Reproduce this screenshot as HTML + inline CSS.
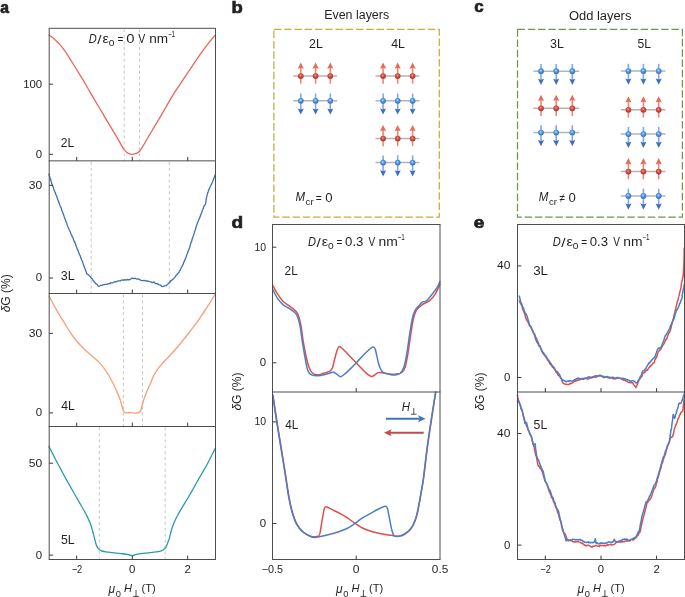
<!DOCTYPE html>
<html><head><meta charset="utf-8"><style>
html,body{margin:0;padding:0;background:#fff;width:685px;height:597px;overflow:hidden;}
svg{display:block;font-family:"Liberation Sans", sans-serif;will-change:transform;}
</style></head><body>
<svg width="685" height="597" viewBox="0 0 685 597" font-family='"Liberation Sans", sans-serif'>
<line x1="124.20" y1="29.30" x2="124.20" y2="160.85" stroke="#c6c6c6" stroke-width="1.00" stroke-dasharray="3 2.9"/>
<line x1="139.50" y1="29.30" x2="139.50" y2="160.85" stroke="#c6c6c6" stroke-width="1.00" stroke-dasharray="3 2.9"/>
<line x1="91.20" y1="161.85" x2="91.20" y2="293.50" stroke="#c6c6c6" stroke-width="1.00" stroke-dasharray="3 2.9"/>
<line x1="169.30" y1="161.85" x2="169.30" y2="293.50" stroke="#c6c6c6" stroke-width="1.00" stroke-dasharray="3 2.9"/>
<line x1="123.40" y1="294.50" x2="123.40" y2="426.50" stroke="#c6c6c6" stroke-width="1.00" stroke-dasharray="3 2.9"/>
<line x1="142.50" y1="294.50" x2="142.50" y2="426.50" stroke="#c6c6c6" stroke-width="1.00" stroke-dasharray="3 2.9"/>
<line x1="99.30" y1="427.50" x2="99.30" y2="559.50" stroke="#c6c6c6" stroke-width="1.00" stroke-dasharray="3 2.9"/>
<line x1="165.20" y1="427.50" x2="165.20" y2="559.50" stroke="#c6c6c6" stroke-width="1.00" stroke-dasharray="3 2.9"/>
<path d="M49.00 35.00 C50.00 35.78 53.22 38.13 55.00 39.70 C56.78 41.27 58.13 42.63 59.70 44.40 C61.27 46.17 62.83 48.15 64.40 50.30 C65.97 52.45 67.53 54.85 69.10 57.30 C70.67 59.75 72.23 62.45 73.80 65.00 C75.37 67.55 76.93 70.07 78.50 72.60 C80.07 75.13 81.62 77.55 83.20 80.20 C84.78 82.85 86.03 85.10 88.00 88.50 C89.97 91.90 92.65 96.62 95.00 100.60 C97.35 104.58 99.75 108.45 102.10 112.40 C104.45 116.35 106.75 120.33 109.10 124.30 C111.45 128.27 114.28 132.95 116.20 136.20 C118.12 139.45 119.37 141.67 120.60 143.80 C121.83 145.93 122.60 147.58 123.60 149.00 C124.60 150.42 125.60 151.48 126.60 152.30 C127.60 153.12 128.65 153.57 129.60 153.90 C130.55 154.23 131.15 154.38 132.30 154.30 C133.45 154.22 135.28 153.90 136.50 153.40 C137.72 152.90 138.68 152.27 139.60 151.30 C140.52 150.33 141.23 148.82 142.00 147.60 C142.77 146.38 143.20 145.68 144.20 144.00 C145.20 142.32 146.73 139.67 148.00 137.50 C149.27 135.33 150.53 133.13 151.80 131.00 C153.07 128.87 154.33 126.80 155.60 124.70 C156.87 122.60 158.22 120.40 159.40 118.40 C160.58 116.40 161.60 114.60 162.70 112.70 C163.80 110.80 164.82 109.07 166.00 107.00 C167.18 104.93 168.57 102.42 169.80 100.30 C171.03 98.18 171.90 96.65 173.40 94.30 C174.90 91.95 177.02 88.88 178.80 86.20 C180.58 83.52 182.32 80.87 184.10 78.20 C185.88 75.53 187.72 72.87 189.50 70.20 C191.28 67.53 193.13 64.68 194.80 62.20 C196.47 59.72 197.93 57.53 199.50 55.30 C201.07 53.07 202.53 51.05 204.20 48.80 C205.87 46.55 207.62 44.10 209.50 41.80 C211.38 39.50 214.50 36.13 215.50 35.00" fill="none" stroke="#e8675e" stroke-width="1.30" stroke-linejoin="round" stroke-linecap="round"/>
<path d="M49.00 174.24 L49.27 175.42 L49.55 176.12 L49.82 177.22 L50.09 178.12 L50.36 178.43 L50.64 179.25 L50.91 180.95 L51.18 181.24 L51.45 182.09 L51.73 183.72 L52.00 184.07 L52.33 185.33 L52.67 185.85 L53.00 186.91 L53.33 187.31 L53.67 188.68 L54.00 189.80 L54.33 190.35 L54.67 191.45 L55.00 192.27 L55.34 192.56 L55.69 194.16 L56.03 194.89 L56.38 195.50 L56.72 196.13 L57.07 197.87 L57.41 198.37 L57.76 199.52 L58.10 200.58 L58.43 201.30 L58.77 202.40 L59.10 202.76 L59.43 204.06 L59.77 204.59 L60.10 205.97 L60.43 206.80 L60.77 206.91 L61.10 207.84 L61.43 208.82 L61.77 210.47 L62.10 210.84 L62.43 211.93 L62.77 212.50 L63.10 213.61 L63.43 214.39 L63.77 215.25 L64.10 216.39 L64.43 217.27 L64.77 218.48 L65.10 219.15 L65.43 220.28 L65.77 221.10 L66.10 222.12 L66.43 222.69 L66.77 223.07 L67.10 224.66 L67.44 225.65 L67.79 226.48 L68.13 227.03 L68.47 228.06 L68.81 228.44 L69.16 229.95 L69.50 230.57 L69.94 231.24 L70.38 231.98 L70.82 233.73 L71.26 234.83 L71.70 234.89 L72.10 236.51 L72.50 237.03 L72.90 237.68 L73.30 238.74 L73.70 240.12 L74.10 241.14 L74.50 241.22 L74.90 242.70 L75.30 243.04 L75.62 244.57 L75.94 245.04 L76.25 246.44 L76.57 247.40 L76.89 247.78 L77.21 249.13 L77.53 249.29 L77.85 249.91 L78.16 251.29 L78.48 251.58 L78.80 252.60 L79.19 253.72 L79.58 254.83 L79.97 255.29 L80.36 256.09 L80.74 257.82 L81.13 258.18 L81.52 259.74 L81.91 260.59 L82.30 260.98 L82.62 261.97 L82.94 262.94 L83.27 263.98 L83.59 264.84 L83.91 265.71 L84.23 266.69 L84.56 267.92 L84.88 268.40 L85.20 269.23 L85.56 270.46 L85.92 270.92 L86.28 271.92 L86.64 273.54 L87.00 274.02 L87.72 274.62 L88.45 274.66 L89.18 275.64 L89.90 276.38 L90.50 276.57 L91.10 277.92 L91.70 278.68 L92.30 278.86 L92.88 280.13 L93.46 280.67 L94.04 281.58 L94.62 281.95 L95.20 283.01 L95.92 283.84 L96.65 283.92 L97.38 284.76 L98.10 286.18 L99.30 286.31 L100.50 285.45 L101.47 285.36 L102.43 285.19 L103.40 284.62 L104.37 284.56 L105.33 284.41 L106.30 284.37 L107.18 284.34 L108.06 283.78 L108.94 283.60 L109.82 283.73 L110.70 282.73 L111.78 282.94 L112.85 282.79 L113.92 282.04 L115.00 281.62 L116.10 281.98 L117.20 281.19 L118.30 280.91 L119.40 280.94 L120.28 280.98 L121.17 280.17 L122.05 280.17 L122.93 279.97 L123.82 280.25 L124.70 279.64 L125.87 280.12 L127.03 279.50 L128.20 279.74 L129.07 279.73 L129.95 279.63 L130.82 278.88 L131.70 278.33 L132.80 278.20 L133.90 278.58 L135.00 278.22 L136.10 278.81 L137.20 279.17 L138.30 278.85 L139.40 279.28 L140.28 280.11 L141.15 280.24 L142.03 280.71 L142.90 280.55 L144.07 280.36 L145.23 280.56 L146.40 281.09 L147.28 280.80 L148.15 281.10 L149.03 281.39 L149.90 281.62 L151.07 281.88 L152.23 282.65 L153.40 282.16 L154.28 282.23 L155.15 283.39 L156.03 283.55 L156.90 283.89 L157.77 283.70 L158.63 284.58 L159.50 284.93 L160.33 284.79 L161.17 285.88 L162.00 286.54 L163.00 286.26 L164.00 286.02 L165.00 285.69 L166.00 285.64 L167.00 284.78 L168.00 283.87 L168.67 283.56 L169.33 282.42 L170.00 282.11 L170.78 280.57 L171.55 280.65 L172.32 279.67 L173.10 279.12 L173.85 278.35 L174.60 277.60 L175.35 276.53 L176.10 275.21 L176.72 275.20 L177.35 273.87 L177.97 273.25 L178.60 272.86 L179.10 271.82 L179.60 270.81 L180.10 270.44 L180.60 269.21 L181.10 268.04 L181.60 266.95 L182.10 266.56 L182.60 265.18 L183.10 264.48 L183.43 263.20 L183.77 262.20 L184.10 261.68 L184.43 261.12 L184.77 259.62 L185.10 259.39 L185.50 258.52 L185.90 257.41 L186.30 256.42 L186.70 254.61 L187.10 254.23 L187.50 253.46 L187.90 251.65 L188.30 250.87 L188.70 249.87 L189.10 249.13 L189.37 248.16 L189.64 247.35 L189.91 246.80 L190.18 245.16 L190.45 244.35 L190.72 243.57 L190.99 242.70 L191.26 241.79 L191.53 241.83 L191.80 240.85 L192.10 239.19 L192.40 238.70 L192.70 237.62 L193.00 236.71 L193.30 235.85 L193.60 235.25 L193.90 234.29 L194.20 233.16 L194.50 232.09 L194.80 231.33 L195.07 230.23 L195.33 229.78 L195.60 229.05 L195.87 227.82 L196.13 226.64 L196.40 225.85 L196.67 225.15 L196.93 224.49 L197.20 223.78 L197.56 222.54 L197.92 222.12 L198.28 221.10 L198.64 220.07 L199.00 219.17 L199.34 218.45 L199.69 217.82 L200.03 216.69 L200.37 216.12 L200.71 215.05 L201.06 213.99 L201.40 213.44 L201.72 212.68 L202.04 211.15 L202.37 210.59 L202.69 209.68 L203.01 209.22 L203.33 208.37 L203.66 206.90 L203.98 206.51 L204.30 205.49 L205.50 204.36 L205.61 203.65 L205.73 202.39 L205.84 202.17 L205.96 201.11 L206.07 200.42 L206.19 199.41 L206.30 198.37 L206.56 197.55 L206.83 196.49 L207.09 195.14 L207.35 194.74 L207.61 193.27 L207.88 192.52 L208.14 192.26 L208.40 190.64 L208.80 189.78 L209.20 188.88 L209.60 188.75 L210.00 187.13 L210.40 186.07 L210.80 185.97 L211.20 184.34 L211.60 184.16 L212.00 183.07 L212.34 182.39 L212.68 181.65 L213.02 180.43 L213.36 179.80 L213.70 178.19 L214.04 178.07 L214.38 176.96 L214.72 176.32 L215.06 174.86 L215.40 174.40" fill="none" stroke="#3b70b7" stroke-width="1.30" stroke-linejoin="round" stroke-linecap="round"/>
<path d="M49.20 296.20 C49.78 297.33 51.53 300.80 52.70 303.00 C53.87 305.20 55.03 307.35 56.20 309.40 C57.37 311.45 58.52 313.33 59.70 315.30 C60.88 317.27 62.12 319.25 63.30 321.20 C64.48 323.15 65.43 324.85 66.80 327.00 C68.17 329.15 69.93 331.85 71.50 334.10 C73.07 336.35 74.63 338.55 76.20 340.50 C77.77 342.45 79.33 344.13 80.90 345.80 C82.47 347.47 84.03 349.05 85.60 350.50 C87.17 351.95 88.73 353.15 90.30 354.50 C91.87 355.85 93.48 357.25 95.00 358.60 C96.52 359.95 97.88 360.98 99.40 362.60 C100.92 364.22 102.53 366.15 104.10 368.30 C105.67 370.45 107.23 372.83 108.80 375.50 C110.37 378.17 112.13 381.55 113.50 384.30 C114.87 387.05 115.93 389.55 117.00 392.00 C118.07 394.45 119.02 396.47 119.90 399.00 C120.78 401.53 121.62 405.05 122.30 407.20 C122.98 409.35 123.32 410.97 124.00 411.90 C124.68 412.83 125.22 412.68 126.40 412.80 C127.58 412.92 129.67 412.55 131.10 412.60 C132.53 412.65 133.77 413.10 135.00 413.10 C136.23 413.10 137.52 413.10 138.50 412.60 C139.48 412.10 140.22 411.58 140.90 410.10 C141.58 408.62 142.02 405.75 142.60 403.70 C143.18 401.65 143.72 399.75 144.40 397.80 C145.08 395.85 145.72 394.35 146.70 392.00 C147.68 389.65 149.12 386.45 150.30 383.70 C151.48 380.95 152.63 377.85 153.80 375.50 C154.97 373.15 155.93 371.55 157.30 369.60 C158.67 367.65 160.23 365.80 162.00 363.80 C163.77 361.80 165.93 359.68 167.90 357.60 C169.87 355.52 171.83 353.48 173.80 351.30 C175.77 349.12 177.73 346.88 179.70 344.50 C181.67 342.12 183.63 339.52 185.60 337.00 C187.57 334.48 189.55 331.93 191.50 329.40 C193.45 326.87 195.35 324.53 197.30 321.80 C199.25 319.07 201.23 315.93 203.20 313.00 C205.17 310.07 207.63 306.45 209.10 304.20 C210.57 301.95 210.95 301.23 212.00 299.50 C213.05 297.77 214.83 294.75 215.40 293.80" fill="none" stroke="#f7a07a" stroke-width="1.35" stroke-linejoin="round" stroke-linecap="round"/>
<path d="M49.00 446.60 C49.67 447.90 51.67 451.80 53.00 454.40 C54.33 457.00 55.58 459.50 57.00 462.20 C58.42 464.90 59.98 467.78 61.50 470.60 C63.02 473.42 64.58 476.35 66.10 479.10 C67.62 481.85 69.10 484.45 70.60 487.10 C72.10 489.75 73.60 492.37 75.10 495.00 C76.60 497.63 78.08 500.27 79.60 502.90 C81.12 505.53 82.88 508.43 84.20 510.80 C85.52 513.17 86.45 514.90 87.50 517.10 C88.55 519.30 89.65 521.68 90.50 524.00 C91.35 526.32 91.90 528.50 92.60 531.00 C93.30 533.50 94.08 536.67 94.70 539.00 C95.32 541.33 95.78 543.50 96.30 545.00 C96.82 546.50 97.13 547.12 97.80 548.00 C98.47 548.88 98.97 549.65 100.30 550.30 C101.63 550.95 103.73 551.50 105.80 551.90 C107.87 552.30 110.15 552.42 112.70 552.70 C115.25 552.98 118.55 553.30 121.10 553.60 C123.65 553.90 126.15 554.17 128.00 554.50 C129.85 554.83 130.82 555.63 132.20 555.60 C133.58 555.57 134.23 554.70 136.30 554.30 C138.37 553.90 141.60 553.55 144.60 553.20 C147.60 552.85 151.52 552.60 154.30 552.20 C157.08 551.80 159.58 551.37 161.30 550.80 C163.02 550.23 163.73 549.60 164.60 548.80 C165.47 548.00 165.92 547.17 166.50 546.00 C167.08 544.83 167.65 543.03 168.10 541.80 C168.55 540.57 168.83 539.82 169.20 538.60 C169.57 537.38 169.92 535.95 170.30 534.50 C170.68 533.05 171.00 531.57 171.50 529.90 C172.00 528.23 172.62 526.27 173.30 524.50 C173.98 522.73 174.77 521.05 175.60 519.30 C176.43 517.55 177.33 515.77 178.30 514.00 C179.27 512.23 180.30 510.57 181.40 508.70 C182.50 506.83 183.72 504.75 184.90 502.80 C186.08 500.85 187.22 499.15 188.50 497.00 C189.78 494.85 191.25 492.28 192.60 489.90 C193.95 487.52 195.30 485.02 196.60 482.70 C197.90 480.38 199.12 478.22 200.40 476.00 C201.68 473.78 203.15 471.40 204.30 469.40 C205.45 467.40 206.33 465.82 207.30 464.00 C208.27 462.18 209.18 460.28 210.10 458.50 C211.02 456.72 211.92 455.05 212.80 453.30 C213.68 451.55 214.97 448.88 215.40 448.00" fill="none" stroke="#2a9ab3" stroke-width="1.30" stroke-linejoin="round" stroke-linecap="round"/>
<path d="M49.20 28.30 V160.85 M215.50 28.30 V160.85 M48.70 160.85 H216.00" stroke="#4d4d4d" stroke-width="1" fill="none"/>
<line x1="48.70" y1="28.30" x2="216.00" y2="28.30" stroke="#4d4d4d" stroke-width="1.00"/>
<line x1="76.70" y1="160.85" x2="76.70" y2="156.95" stroke="#3a3a3a" stroke-width="1.00"/>
<line x1="132.30" y1="160.85" x2="132.30" y2="156.95" stroke="#3a3a3a" stroke-width="1.00"/>
<line x1="187.70" y1="160.85" x2="187.70" y2="156.95" stroke="#3a3a3a" stroke-width="1.00"/>
<path d="M49.20 160.85 V293.50 M215.50 160.85 V293.50 M48.70 293.50 H216.00" stroke="#4d4d4d" stroke-width="1" fill="none"/>
<line x1="76.70" y1="293.50" x2="76.70" y2="289.60" stroke="#3a3a3a" stroke-width="1.00"/>
<line x1="132.30" y1="293.50" x2="132.30" y2="289.60" stroke="#3a3a3a" stroke-width="1.00"/>
<line x1="187.70" y1="293.50" x2="187.70" y2="289.60" stroke="#3a3a3a" stroke-width="1.00"/>
<path d="M49.20 293.50 V426.50 M215.50 293.50 V426.50 M48.70 426.50 H216.00" stroke="#4d4d4d" stroke-width="1" fill="none"/>
<line x1="76.70" y1="426.50" x2="76.70" y2="422.60" stroke="#3a3a3a" stroke-width="1.00"/>
<line x1="132.30" y1="426.50" x2="132.30" y2="422.60" stroke="#3a3a3a" stroke-width="1.00"/>
<line x1="187.70" y1="426.50" x2="187.70" y2="422.60" stroke="#3a3a3a" stroke-width="1.00"/>
<path d="M49.20 426.50 V559.50 M215.50 426.50 V559.50 M48.70 559.50 H216.00" stroke="#4d4d4d" stroke-width="1" fill="none"/>
<line x1="76.70" y1="559.50" x2="76.70" y2="555.60" stroke="#3a3a3a" stroke-width="1.00"/>
<line x1="132.30" y1="559.50" x2="132.30" y2="555.60" stroke="#3a3a3a" stroke-width="1.00"/>
<line x1="187.70" y1="559.50" x2="187.70" y2="555.60" stroke="#3a3a3a" stroke-width="1.00"/>
<line x1="49.20" y1="84.20" x2="53.10" y2="84.20" stroke="#3a3a3a" stroke-width="1.00"/>
<line x1="49.20" y1="154.30" x2="53.10" y2="154.30" stroke="#3a3a3a" stroke-width="1.00"/>
<line x1="49.20" y1="185.30" x2="53.10" y2="185.30" stroke="#3a3a3a" stroke-width="1.00"/>
<line x1="49.20" y1="278.00" x2="53.10" y2="278.00" stroke="#3a3a3a" stroke-width="1.00"/>
<line x1="49.20" y1="333.40" x2="53.10" y2="333.40" stroke="#3a3a3a" stroke-width="1.00"/>
<line x1="49.20" y1="412.90" x2="53.10" y2="412.90" stroke="#3a3a3a" stroke-width="1.00"/>
<line x1="49.20" y1="463.20" x2="53.10" y2="463.20" stroke="#3a3a3a" stroke-width="1.00"/>
<line x1="49.20" y1="555.10" x2="53.10" y2="555.10" stroke="#3a3a3a" stroke-width="1.00"/>
<text x="23.15" y="87.60" font-size="10.40" fill="#231f20" textLength="18.99" lengthAdjust="spacingAndGlyphs">100</text>
<text x="35.74" y="157.70" font-size="10.40" fill="#231f20" textLength="6.37" lengthAdjust="spacingAndGlyphs">0</text>
<text x="28.72" y="188.70" font-size="10.40" fill="#231f20" textLength="13.43" lengthAdjust="spacingAndGlyphs">30</text>
<text x="35.74" y="281.40" font-size="10.40" fill="#231f20" textLength="6.37" lengthAdjust="spacingAndGlyphs">0</text>
<text x="28.72" y="336.80" font-size="10.40" fill="#231f20" textLength="13.43" lengthAdjust="spacingAndGlyphs">30</text>
<text x="35.74" y="416.30" font-size="10.40" fill="#231f20" textLength="6.37" lengthAdjust="spacingAndGlyphs">0</text>
<text x="28.72" y="466.60" font-size="10.40" fill="#231f20" textLength="13.43" lengthAdjust="spacingAndGlyphs">50</text>
<text x="35.74" y="558.50" font-size="10.40" fill="#231f20" textLength="6.37" lengthAdjust="spacingAndGlyphs">0</text>
<text x="60.70" y="147.30" font-size="12.70" fill="#231f20" textLength="13.39" lengthAdjust="spacingAndGlyphs">2L</text>
<text x="60.80" y="279.80" font-size="12.70" fill="#231f20" textLength="13.90" lengthAdjust="spacingAndGlyphs">3L</text>
<text x="61.36" y="410.10" font-size="12.70" fill="#231f20" textLength="13.54" lengthAdjust="spacingAndGlyphs">4L</text>
<text x="61.01" y="544.40" font-size="12.70" fill="#231f20" textLength="13.69" lengthAdjust="spacingAndGlyphs">5L</text>
<text x="71.63" y="573.30" font-size="10.40" fill="#231f20" textLength="10.63" lengthAdjust="spacingAndGlyphs">−2</text>
<text x="129.14" y="573.30" font-size="10.40" fill="#231f20" textLength="6.37" lengthAdjust="spacingAndGlyphs">0</text>
<text x="184.53" y="573.30" font-size="10.40" fill="#231f20" textLength="6.36" lengthAdjust="spacingAndGlyphs">2</text>
<text x="108.54" y="592.50" font-size="12.00" font-style="italic" fill="#231f20" textLength="6.57" lengthAdjust="spacingAndGlyphs">μ</text>
<text x="115.83" y="596.80" font-size="9.20" fill="#231f20" textLength="5.21" lengthAdjust="spacingAndGlyphs">0</text>
<text x="124.07" y="592.00" font-size="11.50" font-style="italic" fill="#231f20" textLength="8.00" lengthAdjust="spacingAndGlyphs">H</text>
<path d="M136.00 590.00 V596.40 M133.10 596.40 H138.90" stroke="#231f20" stroke-width="0.80" fill="none"/>
<text x="141.54" y="592.00" font-size="11.50" fill="#231f20" textLength="14.15" lengthAdjust="spacingAndGlyphs">(T)</text>
<text transform="translate(10.30 293.30) rotate(-90)" font-size="12.0" text-anchor="middle" fill="#231f20"><tspan font-style="italic">δ</tspan>G (%)</text>
<text x="88.87" y="42.80" font-size="12.20" font-style="italic" fill="#231f20" textLength="7.99" lengthAdjust="spacingAndGlyphs">D</text>
<text x="97.30" y="43.70" font-size="12.81" fill="#231f20" textLength="4.27" lengthAdjust="spacingAndGlyphs">/</text>
<text x="102.50" y="42.80" font-size="13.42" fill="#231f20" textLength="6.40" lengthAdjust="spacingAndGlyphs">ε</text>
<text x="108.89" y="46.30" font-size="8.80" fill="#231f20" textLength="5.68" lengthAdjust="spacingAndGlyphs">0</text>
<text x="117.39" y="43.40" font-size="12.20" fill="#231f20" textLength="5.90" lengthAdjust="spacingAndGlyphs">=</text>
<text x="126.31" y="42.80" font-size="12.20" fill="#231f20" textLength="8.23" lengthAdjust="spacingAndGlyphs">0</text>
<text x="138.25" y="42.80" font-size="12.20" fill="#231f20" textLength="7.03" lengthAdjust="spacingAndGlyphs">V</text>
<text x="149.22" y="42.80" font-size="12.20" fill="#231f20" textLength="18.85" lengthAdjust="spacingAndGlyphs">nm</text>
<text x="167.88" y="36.90" font-size="8.60" fill="#231f20" textLength="7.20" lengthAdjust="spacingAndGlyphs">−1</text>
<text x="0.13" y="12.80" font-size="17.00" font-weight="bold" fill="#231f20" stroke="#231f20" stroke-width="0.70" textLength="8.73" lengthAdjust="spacingAndGlyphs">a</text>
<text x="231.40" y="13.00" font-size="17.00" font-weight="bold" fill="#231f20" stroke="#231f20" stroke-width="0.70" textLength="11.25" lengthAdjust="spacingAndGlyphs">b</text>
<text x="474.32" y="12.20" font-size="17.00" font-weight="bold" fill="#231f20" stroke="#231f20" stroke-width="0.70" textLength="9.40" lengthAdjust="spacingAndGlyphs">c</text>
<text x="231.54" y="228.10" font-size="17.00" font-weight="bold" fill="#231f20" stroke="#231f20" stroke-width="0.70" textLength="11.61" lengthAdjust="spacingAndGlyphs">d</text>
<text x="473.84" y="228.30" font-size="17.00" font-weight="bold" fill="#231f20" stroke="#231f20" stroke-width="0.70" textLength="10.54" lengthAdjust="spacingAndGlyphs">e</text>
<defs><radialGradient id="gr" cx="0.45" cy="0.4" r="0.6"><stop offset="0" stop-color="#f5b08a"/><stop offset="0.35" stop-color="#d9544a"/><stop offset="1" stop-color="#a8302b"/></radialGradient><radialGradient id="gb" cx="0.45" cy="0.4" r="0.6"><stop offset="0" stop-color="#d8ecff"/><stop offset="0.35" stop-color="#5e9ee6"/><stop offset="1" stop-color="#2f6cbf"/></radialGradient></defs>
<rect x="273.90" y="29.40" width="165.40" height="187.80" fill="none" stroke="#d4a73c" stroke-width="1.25" stroke-dasharray="7.5 2.76"/>
<rect x="517.50" y="29.40" width="164.90" height="187.60" fill="none" stroke="#6c9a48" stroke-width="1.25" stroke-dasharray="7.5 2.76"/>
<line x1="293.20" y1="76.00" x2="337.10" y2="76.00" stroke="#b4b4b4" stroke-width="1.50"/>
<line x1="300.80" y1="83.70" x2="300.80" y2="67.00" stroke="#ec8676" stroke-width="1.6"/>
<path d="M300.80 62.50 L297.65 68.80 L300.80 67.80 L303.95 68.80 Z" fill="#e46b5d"/>
<circle cx="300.80" cy="76.00" r="2.85" fill="url(#gr)"/>
<line x1="315.60" y1="83.70" x2="315.60" y2="67.00" stroke="#ec8676" stroke-width="1.6"/>
<path d="M315.60 62.50 L312.45 68.80 L315.60 67.80 L318.75 68.80 Z" fill="#e46b5d"/>
<circle cx="315.60" cy="76.00" r="2.85" fill="url(#gr)"/>
<line x1="330.30" y1="83.70" x2="330.30" y2="67.00" stroke="#ec8676" stroke-width="1.6"/>
<path d="M330.30 62.50 L327.15 68.80 L330.30 67.80 L333.45 68.80 Z" fill="#e46b5d"/>
<circle cx="330.30" cy="76.00" r="2.85" fill="url(#gr)"/>
<line x1="293.20" y1="100.80" x2="337.10" y2="100.80" stroke="#b4b4b4" stroke-width="1.50"/>
<line x1="300.80" y1="93.60" x2="300.80" y2="110.20" stroke="#7eaae0" stroke-width="1.6"/>
<path d="M300.80 114.60 L297.75 108.40 L300.80 109.40 L303.85 108.40 Z" fill="#3d6ec0"/>
<circle cx="300.80" cy="100.80" r="2.85" fill="url(#gb)"/>
<line x1="315.60" y1="93.60" x2="315.60" y2="110.20" stroke="#7eaae0" stroke-width="1.6"/>
<path d="M315.60 114.60 L312.55 108.40 L315.60 109.40 L318.65 108.40 Z" fill="#3d6ec0"/>
<circle cx="315.60" cy="100.80" r="2.85" fill="url(#gb)"/>
<line x1="330.30" y1="93.60" x2="330.30" y2="110.20" stroke="#7eaae0" stroke-width="1.6"/>
<path d="M330.30 114.60 L327.25 108.40 L330.30 109.40 L333.35 108.40 Z" fill="#3d6ec0"/>
<circle cx="330.30" cy="100.80" r="2.85" fill="url(#gb)"/>
<line x1="375.50" y1="76.00" x2="419.40" y2="76.00" stroke="#b4b4b4" stroke-width="1.50"/>
<line x1="383.10" y1="83.70" x2="383.10" y2="67.00" stroke="#ec8676" stroke-width="1.6"/>
<path d="M383.10 62.50 L379.95 68.80 L383.10 67.80 L386.25 68.80 Z" fill="#e46b5d"/>
<circle cx="383.10" cy="76.00" r="2.85" fill="url(#gr)"/>
<line x1="397.70" y1="83.70" x2="397.70" y2="67.00" stroke="#ec8676" stroke-width="1.6"/>
<path d="M397.70 62.50 L394.55 68.80 L397.70 67.80 L400.85 68.80 Z" fill="#e46b5d"/>
<circle cx="397.70" cy="76.00" r="2.85" fill="url(#gr)"/>
<line x1="412.60" y1="83.70" x2="412.60" y2="67.00" stroke="#ec8676" stroke-width="1.6"/>
<path d="M412.60 62.50 L409.45 68.80 L412.60 67.80 L415.75 68.80 Z" fill="#e46b5d"/>
<circle cx="412.60" cy="76.00" r="2.85" fill="url(#gr)"/>
<line x1="375.50" y1="100.80" x2="419.40" y2="100.80" stroke="#b4b4b4" stroke-width="1.50"/>
<line x1="383.10" y1="93.60" x2="383.10" y2="110.20" stroke="#7eaae0" stroke-width="1.6"/>
<path d="M383.10 114.60 L380.05 108.40 L383.10 109.40 L386.15 108.40 Z" fill="#3d6ec0"/>
<circle cx="383.10" cy="100.80" r="2.85" fill="url(#gb)"/>
<line x1="397.70" y1="93.60" x2="397.70" y2="110.20" stroke="#7eaae0" stroke-width="1.6"/>
<path d="M397.70 114.60 L394.65 108.40 L397.70 109.40 L400.75 108.40 Z" fill="#3d6ec0"/>
<circle cx="397.70" cy="100.80" r="2.85" fill="url(#gb)"/>
<line x1="412.60" y1="93.60" x2="412.60" y2="110.20" stroke="#7eaae0" stroke-width="1.6"/>
<path d="M412.60 114.60 L409.55 108.40 L412.60 109.40 L415.65 108.40 Z" fill="#3d6ec0"/>
<circle cx="412.60" cy="100.80" r="2.85" fill="url(#gb)"/>
<line x1="375.50" y1="138.50" x2="419.40" y2="138.50" stroke="#b4b4b4" stroke-width="1.50"/>
<line x1="383.10" y1="146.20" x2="383.10" y2="129.50" stroke="#ec8676" stroke-width="1.6"/>
<path d="M383.10 125.00 L379.95 131.30 L383.10 130.30 L386.25 131.30 Z" fill="#e46b5d"/>
<circle cx="383.10" cy="138.50" r="2.85" fill="url(#gr)"/>
<line x1="397.70" y1="146.20" x2="397.70" y2="129.50" stroke="#ec8676" stroke-width="1.6"/>
<path d="M397.70 125.00 L394.55 131.30 L397.70 130.30 L400.85 131.30 Z" fill="#e46b5d"/>
<circle cx="397.70" cy="138.50" r="2.85" fill="url(#gr)"/>
<line x1="412.60" y1="146.20" x2="412.60" y2="129.50" stroke="#ec8676" stroke-width="1.6"/>
<path d="M412.60 125.00 L409.45 131.30 L412.60 130.30 L415.75 131.30 Z" fill="#e46b5d"/>
<circle cx="412.60" cy="138.50" r="2.85" fill="url(#gr)"/>
<line x1="375.50" y1="162.60" x2="419.40" y2="162.60" stroke="#b4b4b4" stroke-width="1.50"/>
<line x1="383.10" y1="155.40" x2="383.10" y2="172.00" stroke="#7eaae0" stroke-width="1.6"/>
<path d="M383.10 176.40 L380.05 170.20 L383.10 171.20 L386.15 170.20 Z" fill="#3d6ec0"/>
<circle cx="383.10" cy="162.60" r="2.85" fill="url(#gb)"/>
<line x1="397.70" y1="155.40" x2="397.70" y2="172.00" stroke="#7eaae0" stroke-width="1.6"/>
<path d="M397.70 176.40 L394.65 170.20 L397.70 171.20 L400.75 170.20 Z" fill="#3d6ec0"/>
<circle cx="397.70" cy="162.60" r="2.85" fill="url(#gb)"/>
<line x1="412.60" y1="155.40" x2="412.60" y2="172.00" stroke="#7eaae0" stroke-width="1.6"/>
<path d="M412.60 176.40 L409.55 170.20 L412.60 171.20 L415.65 170.20 Z" fill="#3d6ec0"/>
<circle cx="412.60" cy="162.60" r="2.85" fill="url(#gb)"/>
<line x1="533.40" y1="71.20" x2="579.10" y2="71.20" stroke="#b4b4b4" stroke-width="1.50"/>
<line x1="541.00" y1="64.00" x2="541.00" y2="80.60" stroke="#7eaae0" stroke-width="1.6"/>
<path d="M541.00 85.00 L537.95 78.80 L541.00 79.80 L544.05 78.80 Z" fill="#3d6ec0"/>
<circle cx="541.00" cy="71.20" r="2.85" fill="url(#gb)"/>
<line x1="556.20" y1="64.00" x2="556.20" y2="80.60" stroke="#7eaae0" stroke-width="1.6"/>
<path d="M556.20 85.00 L553.15 78.80 L556.20 79.80 L559.25 78.80 Z" fill="#3d6ec0"/>
<circle cx="556.20" cy="71.20" r="2.85" fill="url(#gb)"/>
<line x1="572.30" y1="64.00" x2="572.30" y2="80.60" stroke="#7eaae0" stroke-width="1.6"/>
<path d="M572.30 85.00 L569.25 78.80 L572.30 79.80 L575.35 78.80 Z" fill="#3d6ec0"/>
<circle cx="572.30" cy="71.20" r="2.85" fill="url(#gb)"/>
<line x1="533.40" y1="108.30" x2="579.10" y2="108.30" stroke="#b4b4b4" stroke-width="1.50"/>
<line x1="541.00" y1="116.00" x2="541.00" y2="99.30" stroke="#ec8676" stroke-width="1.6"/>
<path d="M541.00 94.80 L537.85 101.10 L541.00 100.10 L544.15 101.10 Z" fill="#e46b5d"/>
<circle cx="541.00" cy="108.30" r="2.85" fill="url(#gr)"/>
<line x1="556.20" y1="116.00" x2="556.20" y2="99.30" stroke="#ec8676" stroke-width="1.6"/>
<path d="M556.20 94.80 L553.05 101.10 L556.20 100.10 L559.35 101.10 Z" fill="#e46b5d"/>
<circle cx="556.20" cy="108.30" r="2.85" fill="url(#gr)"/>
<line x1="572.30" y1="116.00" x2="572.30" y2="99.30" stroke="#ec8676" stroke-width="1.6"/>
<path d="M572.30 94.80 L569.15 101.10 L572.30 100.10 L575.45 101.10 Z" fill="#e46b5d"/>
<circle cx="572.30" cy="108.30" r="2.85" fill="url(#gr)"/>
<line x1="533.40" y1="132.50" x2="579.10" y2="132.50" stroke="#b4b4b4" stroke-width="1.50"/>
<line x1="541.00" y1="125.30" x2="541.00" y2="141.90" stroke="#7eaae0" stroke-width="1.6"/>
<path d="M541.00 146.30 L537.95 140.10 L541.00 141.10 L544.05 140.10 Z" fill="#3d6ec0"/>
<circle cx="541.00" cy="132.50" r="2.85" fill="url(#gb)"/>
<line x1="556.20" y1="125.30" x2="556.20" y2="141.90" stroke="#7eaae0" stroke-width="1.6"/>
<path d="M556.20 146.30 L553.15 140.10 L556.20 141.10 L559.25 140.10 Z" fill="#3d6ec0"/>
<circle cx="556.20" cy="132.50" r="2.85" fill="url(#gb)"/>
<line x1="572.30" y1="125.30" x2="572.30" y2="141.90" stroke="#7eaae0" stroke-width="1.6"/>
<path d="M572.30 146.30 L569.25 140.10 L572.30 141.10 L575.35 140.10 Z" fill="#3d6ec0"/>
<circle cx="572.30" cy="132.50" r="2.85" fill="url(#gb)"/>
<line x1="620.80" y1="71.00" x2="665.50" y2="71.00" stroke="#b4b4b4" stroke-width="1.50"/>
<line x1="628.40" y1="63.80" x2="628.40" y2="80.40" stroke="#7eaae0" stroke-width="1.6"/>
<path d="M628.40 84.80 L625.35 78.60 L628.40 79.60 L631.45 78.60 Z" fill="#3d6ec0"/>
<circle cx="628.40" cy="71.00" r="2.85" fill="url(#gb)"/>
<line x1="643.40" y1="63.80" x2="643.40" y2="80.40" stroke="#7eaae0" stroke-width="1.6"/>
<path d="M643.40 84.80 L640.35 78.60 L643.40 79.60 L646.45 78.60 Z" fill="#3d6ec0"/>
<circle cx="643.40" cy="71.00" r="2.85" fill="url(#gb)"/>
<line x1="658.70" y1="63.80" x2="658.70" y2="80.40" stroke="#7eaae0" stroke-width="1.6"/>
<path d="M658.70 84.80 L655.65 78.60 L658.70 79.60 L661.75 78.60 Z" fill="#3d6ec0"/>
<circle cx="658.70" cy="71.00" r="2.85" fill="url(#gb)"/>
<line x1="620.80" y1="109.80" x2="665.50" y2="109.80" stroke="#b4b4b4" stroke-width="1.50"/>
<line x1="628.40" y1="117.50" x2="628.40" y2="100.80" stroke="#ec8676" stroke-width="1.6"/>
<path d="M628.40 96.30 L625.25 102.60 L628.40 101.60 L631.55 102.60 Z" fill="#e46b5d"/>
<circle cx="628.40" cy="109.80" r="2.85" fill="url(#gr)"/>
<line x1="643.40" y1="117.50" x2="643.40" y2="100.80" stroke="#ec8676" stroke-width="1.6"/>
<path d="M643.40 96.30 L640.25 102.60 L643.40 101.60 L646.55 102.60 Z" fill="#e46b5d"/>
<circle cx="643.40" cy="109.80" r="2.85" fill="url(#gr)"/>
<line x1="658.70" y1="117.50" x2="658.70" y2="100.80" stroke="#ec8676" stroke-width="1.6"/>
<path d="M658.70 96.30 L655.55 102.60 L658.70 101.60 L661.85 102.60 Z" fill="#e46b5d"/>
<circle cx="658.70" cy="109.80" r="2.85" fill="url(#gr)"/>
<line x1="620.80" y1="134.10" x2="665.50" y2="134.10" stroke="#b4b4b4" stroke-width="1.50"/>
<line x1="628.40" y1="126.90" x2="628.40" y2="143.50" stroke="#7eaae0" stroke-width="1.6"/>
<path d="M628.40 147.90 L625.35 141.70 L628.40 142.70 L631.45 141.70 Z" fill="#3d6ec0"/>
<circle cx="628.40" cy="134.10" r="2.85" fill="url(#gb)"/>
<line x1="643.40" y1="126.90" x2="643.40" y2="143.50" stroke="#7eaae0" stroke-width="1.6"/>
<path d="M643.40 147.90 L640.35 141.70 L643.40 142.70 L646.45 141.70 Z" fill="#3d6ec0"/>
<circle cx="643.40" cy="134.10" r="2.85" fill="url(#gb)"/>
<line x1="658.70" y1="126.90" x2="658.70" y2="143.50" stroke="#7eaae0" stroke-width="1.6"/>
<path d="M658.70 147.90 L655.65 141.70 L658.70 142.70 L661.75 141.70 Z" fill="#3d6ec0"/>
<circle cx="658.70" cy="134.10" r="2.85" fill="url(#gb)"/>
<line x1="620.80" y1="171.60" x2="665.50" y2="171.60" stroke="#b4b4b4" stroke-width="1.50"/>
<line x1="628.40" y1="179.30" x2="628.40" y2="162.60" stroke="#ec8676" stroke-width="1.6"/>
<path d="M628.40 158.10 L625.25 164.40 L628.40 163.40 L631.55 164.40 Z" fill="#e46b5d"/>
<circle cx="628.40" cy="171.60" r="2.85" fill="url(#gr)"/>
<line x1="643.40" y1="179.30" x2="643.40" y2="162.60" stroke="#ec8676" stroke-width="1.6"/>
<path d="M643.40 158.10 L640.25 164.40 L643.40 163.40 L646.55 164.40 Z" fill="#e46b5d"/>
<circle cx="643.40" cy="171.60" r="2.85" fill="url(#gr)"/>
<line x1="658.70" y1="179.30" x2="658.70" y2="162.60" stroke="#ec8676" stroke-width="1.6"/>
<path d="M658.70 158.10 L655.55 164.40 L658.70 163.40 L661.85 164.40 Z" fill="#e46b5d"/>
<circle cx="658.70" cy="171.60" r="2.85" fill="url(#gr)"/>
<line x1="620.80" y1="195.90" x2="665.50" y2="195.90" stroke="#b4b4b4" stroke-width="1.50"/>
<line x1="628.40" y1="188.70" x2="628.40" y2="205.30" stroke="#7eaae0" stroke-width="1.6"/>
<path d="M628.40 209.70 L625.35 203.50 L628.40 204.50 L631.45 203.50 Z" fill="#3d6ec0"/>
<circle cx="628.40" cy="195.90" r="2.85" fill="url(#gb)"/>
<line x1="643.40" y1="188.70" x2="643.40" y2="205.30" stroke="#7eaae0" stroke-width="1.6"/>
<path d="M643.40 209.70 L640.35 203.50 L643.40 204.50 L646.45 203.50 Z" fill="#3d6ec0"/>
<circle cx="643.40" cy="195.90" r="2.85" fill="url(#gb)"/>
<line x1="658.70" y1="188.70" x2="658.70" y2="205.30" stroke="#7eaae0" stroke-width="1.6"/>
<path d="M658.70 209.70 L655.65 203.50 L658.70 204.50 L661.75 203.50 Z" fill="#3d6ec0"/>
<circle cx="658.70" cy="195.90" r="2.85" fill="url(#gb)"/>
<text x="324.21" y="19.40" font-size="12.00" fill="#231f20" textLength="64.93" lengthAdjust="spacingAndGlyphs">Even layers</text>
<text x="568.92" y="19.50" font-size="12.00" fill="#231f20" textLength="62.44" lengthAdjust="spacingAndGlyphs">Odd layers</text>
<text x="309.08" y="48.00" font-size="12.70" fill="#231f20" textLength="13.72" lengthAdjust="spacingAndGlyphs">2L</text>
<text x="391.25" y="48.00" font-size="12.70" fill="#231f20" textLength="13.75" lengthAdjust="spacingAndGlyphs">4L</text>
<text x="550.00" y="48.00" font-size="12.70" fill="#231f20" textLength="13.90" lengthAdjust="spacingAndGlyphs">3L</text>
<text x="637.42" y="48.00" font-size="12.70" fill="#231f20" textLength="13.48" lengthAdjust="spacingAndGlyphs">5L</text>
<text x="295.46" y="200.90" font-size="12.00" font-style="italic" fill="#231f20" textLength="9.52" lengthAdjust="spacingAndGlyphs">M</text>
<text x="305.62" y="204.50" font-size="8.80" fill="#231f20" textLength="7.95" lengthAdjust="spacingAndGlyphs">cr</text>
<text x="315.68" y="201.80" font-size="12.00" fill="#231f20" textLength="6.02" lengthAdjust="spacingAndGlyphs">=</text>
<text x="325.38" y="201.50" font-size="12.00" fill="#231f20" textLength="7.30" lengthAdjust="spacingAndGlyphs">0</text>
<text x="538.75" y="200.90" font-size="12.00" font-style="italic" fill="#231f20" textLength="9.62" lengthAdjust="spacingAndGlyphs">M</text>
<text x="549.12" y="204.50" font-size="8.80" fill="#231f20" textLength="7.85" lengthAdjust="spacingAndGlyphs">cr</text>
<text x="559.60" y="201.80" font-size="12.00" fill="#231f20" textLength="5.49" lengthAdjust="spacingAndGlyphs">≠</text>
<text x="568.57" y="201.50" font-size="12.00" fill="#231f20" textLength="7.30" lengthAdjust="spacingAndGlyphs">0</text>
<path d="M272.60 285.20 C273.40 286.63 275.68 291.13 277.40 293.80 C279.12 296.47 280.77 299.05 282.90 301.20 C285.03 303.35 287.90 304.87 290.20 306.70 C292.50 308.53 295.17 310.20 296.70 312.20 C298.23 314.20 298.63 316.08 299.40 318.70 C300.17 321.32 300.68 324.23 301.30 327.90 C301.92 331.57 302.33 336.10 303.10 340.70 C303.87 345.30 304.97 351.20 305.90 355.50 C306.83 359.80 307.63 363.58 308.70 366.50 C309.77 369.42 310.77 371.62 312.30 373.00 C313.83 374.38 316.05 374.75 317.90 374.80 C319.75 374.85 321.88 373.73 323.40 373.30 C324.92 372.87 325.83 372.63 327.00 372.20 C328.17 371.77 329.47 371.50 330.40 370.70 C331.33 369.90 331.87 369.42 332.60 367.40 C333.33 365.38 334.07 361.43 334.80 358.60 C335.53 355.77 336.27 352.40 337.00 350.40 C337.73 348.40 338.38 346.97 339.20 346.60 C340.02 346.23 340.53 347.02 341.90 348.20 C343.27 349.38 345.58 351.87 347.40 353.70 C349.22 355.53 351.35 357.68 352.80 359.20 C354.25 360.72 354.63 361.25 356.10 362.80 C357.57 364.35 359.77 366.65 361.60 368.50 C363.43 370.35 365.45 372.57 367.10 373.90 C368.75 375.23 370.23 376.32 371.50 376.50 C372.77 376.68 373.62 375.65 374.70 375.00 C375.78 374.35 376.72 372.97 378.00 372.60 C379.28 372.23 380.57 372.58 382.40 372.80 C384.23 373.02 386.63 373.68 389.00 373.90 C391.37 374.12 394.47 374.33 396.60 374.10 C398.73 373.87 400.37 373.70 401.80 372.50 C403.23 371.30 404.18 370.02 405.20 366.90 C406.22 363.78 407.00 359.05 407.90 353.80 C408.80 348.55 409.68 341.23 410.60 335.40 C411.52 329.57 412.47 322.93 413.40 318.80 C414.33 314.67 414.88 312.85 416.20 310.60 C417.52 308.35 419.03 307.02 421.30 305.30 C423.57 303.58 427.45 302.22 429.80 300.30 C432.15 298.38 433.72 296.48 435.40 293.80 C437.08 291.12 439.15 285.80 439.90 284.20" fill="none" stroke="#de4f49" stroke-width="1.50" stroke-linejoin="round" stroke-linecap="round"/>
<path d="M272.60 289.20 C273.40 290.70 275.68 295.63 277.40 298.20 C279.12 300.77 280.77 302.77 282.90 304.60 C285.03 306.43 288.05 307.70 290.20 309.20 C292.35 310.70 294.42 311.87 295.80 313.60 C297.18 315.33 297.73 317.22 298.50 319.60 C299.27 321.98 299.78 324.38 300.40 327.90 C301.02 331.42 301.43 335.80 302.20 340.70 C302.97 345.60 304.08 352.38 305.00 357.30 C305.92 362.22 306.63 367.28 307.70 370.20 C308.77 373.12 309.70 373.88 311.40 374.80 C313.10 375.72 315.60 375.77 317.90 375.70 C320.20 375.63 322.67 374.97 325.20 374.40 C327.73 373.83 331.23 372.38 333.10 372.30 C334.97 372.22 335.20 373.17 336.40 373.90 C337.60 374.63 339.02 376.60 340.30 376.70 C341.58 376.80 342.55 375.68 344.10 374.50 C345.65 373.32 347.60 371.52 349.60 369.60 C351.60 367.68 354.10 365.10 356.10 363.00 C358.10 360.90 359.77 358.92 361.60 357.00 C363.43 355.08 365.45 353.05 367.10 351.50 C368.75 349.95 370.40 348.43 371.50 347.70 C372.60 346.97 373.07 346.83 373.70 347.10 C374.33 347.37 374.77 347.75 375.30 349.30 C375.83 350.85 376.27 353.75 376.90 356.40 C377.53 359.05 378.27 362.73 379.10 365.20 C379.93 367.67 380.80 369.83 381.90 371.20 C383.00 372.57 384.33 372.85 385.70 373.40 C387.07 373.95 388.58 374.23 390.10 374.50 C391.62 374.77 393.10 375.22 394.80 375.00 C396.50 374.78 398.77 374.58 400.30 373.20 C401.83 371.82 402.92 369.93 404.00 366.70 C405.08 363.47 405.88 359.02 406.80 353.80 C407.72 348.58 408.58 341.23 409.50 335.40 C410.42 329.57 411.37 322.97 412.30 318.80 C413.23 314.63 413.87 312.72 415.10 310.40 C416.33 308.08 418.48 306.28 419.70 304.90 C420.92 303.52 421.33 302.72 422.40 302.10 C423.47 301.48 424.55 302.42 426.10 301.20 C427.65 299.98 429.85 297.10 431.70 294.80 C433.55 292.50 435.83 289.60 437.20 287.40 C438.57 285.20 439.45 282.57 439.90 281.60" fill="none" stroke="#4a7ec6" stroke-width="1.50" stroke-linejoin="round" stroke-linecap="round"/>
<path d="M273.00 395.30 C273.68 399.82 275.78 413.98 277.10 422.40 C278.42 430.82 279.62 437.87 280.90 445.80 C282.18 453.73 283.77 463.45 284.80 470.00 C285.83 476.55 286.35 480.33 287.10 485.10 C287.85 489.87 288.42 494.08 289.30 498.60 C290.18 503.12 291.13 507.93 292.40 512.20 C293.67 516.47 295.15 520.93 296.90 524.20 C298.65 527.47 300.65 529.78 302.90 531.80 C305.15 533.82 307.93 535.55 310.40 536.30 C312.87 537.05 316.12 536.80 317.70 536.30 C319.28 535.80 319.15 536.07 319.90 533.30 C320.65 530.53 321.45 523.85 322.20 519.70 C322.95 515.55 323.65 510.53 324.40 508.40 C325.15 506.27 325.32 506.65 326.70 506.90 C328.08 507.15 330.43 508.77 332.70 509.90 C334.97 511.03 337.78 512.32 340.30 513.70 C342.82 515.08 345.30 516.57 347.80 518.20 C350.30 519.83 352.85 521.87 355.30 523.50 C357.75 525.13 360.03 526.75 362.50 528.00 C364.97 529.25 367.58 530.17 370.10 531.00 C372.62 531.83 375.10 532.42 377.60 533.00 C380.10 533.58 382.58 534.07 385.10 534.50 C387.62 534.93 390.40 535.30 392.70 535.60 C395.00 535.90 396.87 536.57 398.90 536.30 C400.93 536.03 402.90 535.25 404.90 534.00 C406.90 532.75 409.13 531.18 410.90 528.80 C412.67 526.42 414.23 523.22 415.50 519.70 C416.77 516.18 417.50 512.47 418.50 507.70 C419.50 502.93 420.63 496.13 421.50 491.10 C422.37 486.07 422.78 484.30 423.70 477.50 C424.62 470.70 425.95 458.35 427.00 450.30 C428.05 442.25 429.00 435.98 430.00 429.20 C431.00 422.42 432.03 415.80 433.00 409.60 C433.97 403.40 435.33 394.93 435.80 392.00" fill="none" stroke="#de4f49" stroke-width="1.50" stroke-linejoin="round" stroke-linecap="round"/>
<path d="M272.70 395.30 C273.38 399.82 275.48 413.98 276.80 422.40 C278.12 430.82 279.32 437.87 280.60 445.80 C281.88 453.73 283.47 463.45 284.50 470.00 C285.53 476.55 286.05 480.33 286.80 485.10 C287.55 489.87 288.12 494.08 289.00 498.60 C289.88 503.12 290.83 507.93 292.10 512.20 C293.37 516.47 294.85 520.93 296.60 524.20 C298.35 527.47 300.35 529.78 302.60 531.80 C304.85 533.82 308.08 535.35 310.10 536.30 C312.12 537.25 313.18 537.43 314.70 537.50 C316.22 537.57 316.95 537.15 319.20 536.70 C321.45 536.25 325.18 535.55 328.20 534.80 C331.22 534.05 334.28 533.20 337.30 532.20 C340.32 531.20 343.55 530.13 346.30 528.80 C349.05 527.47 351.10 526.02 353.80 524.20 C356.50 522.38 359.78 519.65 362.50 517.90 C365.22 516.15 367.58 515.10 370.10 513.70 C372.62 512.30 375.10 510.75 377.60 509.50 C380.10 508.25 383.47 506.38 385.10 506.20 C386.73 506.02 386.63 506.15 387.40 508.40 C388.17 510.65 388.95 516.05 389.70 519.70 C390.45 523.35 391.15 527.62 391.90 530.30 C392.65 532.98 393.07 534.80 394.20 535.80 C395.33 536.80 396.95 536.60 398.70 536.30 C400.45 536.00 402.70 535.25 404.70 534.00 C406.70 532.75 408.93 531.18 410.70 528.80 C412.47 526.42 414.03 523.22 415.30 519.70 C416.57 516.18 417.30 512.47 418.30 507.70 C419.30 502.93 420.43 496.13 421.30 491.10 C422.17 486.07 422.58 484.30 423.50 477.50 C424.42 470.70 425.75 458.35 426.80 450.30 C427.85 442.25 428.80 435.98 429.80 429.20 C430.80 422.42 431.83 415.80 432.80 409.60 C433.77 403.40 435.13 394.93 435.60 392.00" fill="none" stroke="#4a7ec6" stroke-width="1.50" stroke-linejoin="round" stroke-linecap="round"/>
<path d="M272.50 224.50 V392.00 M440.00 224.50 V392.00 M272.00 392.00 H440.50" stroke="#4d4d4d" stroke-width="1" fill="none"/>
<line x1="272.00" y1="224.50" x2="440.50" y2="224.50" stroke="#4d4d4d" stroke-width="1.00"/>
<line x1="356.20" y1="392.00" x2="356.20" y2="388.10" stroke="#3a3a3a" stroke-width="1.00"/>
<path d="M272.50 392.00 V559.50 M440.00 392.00 V559.50 M272.00 559.50 H440.50" stroke="#4d4d4d" stroke-width="1" fill="none"/>
<line x1="356.20" y1="559.50" x2="356.20" y2="555.60" stroke="#3a3a3a" stroke-width="1.00"/>
<line x1="272.50" y1="247.20" x2="276.40" y2="247.20" stroke="#3a3a3a" stroke-width="1.00"/>
<text x="254.41" y="250.60" font-size="10.40" fill="#231f20" textLength="11.68" lengthAdjust="spacingAndGlyphs">10</text>
<line x1="272.50" y1="362.80" x2="276.40" y2="362.80" stroke="#3a3a3a" stroke-width="1.00"/>
<text x="259.74" y="366.20" font-size="10.40" fill="#231f20" textLength="6.37" lengthAdjust="spacingAndGlyphs">0</text>
<line x1="272.50" y1="421.90" x2="276.40" y2="421.90" stroke="#3a3a3a" stroke-width="1.00"/>
<text x="254.41" y="425.30" font-size="10.40" fill="#231f20" textLength="11.68" lengthAdjust="spacingAndGlyphs">10</text>
<line x1="272.50" y1="523.50" x2="276.40" y2="523.50" stroke="#3a3a3a" stroke-width="1.00"/>
<text x="259.74" y="526.90" font-size="10.40" fill="#231f20" textLength="6.37" lengthAdjust="spacingAndGlyphs">0</text>
<text x="284.61" y="274.60" font-size="12.70" fill="#231f20" textLength="13.18" lengthAdjust="spacingAndGlyphs">2L</text>
<text x="285.16" y="428.70" font-size="12.70" fill="#231f20" textLength="13.12" lengthAdjust="spacingAndGlyphs">4L</text>
<text x="261.76" y="573.30" font-size="10.40" fill="#231f20" textLength="21.26" lengthAdjust="spacingAndGlyphs">−0.5</text>
<text x="352.72" y="573.30" font-size="10.40" fill="#231f20" textLength="6.72" lengthAdjust="spacingAndGlyphs">0</text>
<text x="431.83" y="573.30" font-size="10.40" fill="#231f20" textLength="16.45" lengthAdjust="spacingAndGlyphs">0.5</text>
<text x="335.94" y="592.50" font-size="12.00" font-style="italic" fill="#231f20" textLength="6.57" lengthAdjust="spacingAndGlyphs">μ</text>
<text x="343.23" y="596.80" font-size="9.20" fill="#231f20" textLength="5.21" lengthAdjust="spacingAndGlyphs">0</text>
<text x="351.47" y="592.00" font-size="11.50" font-style="italic" fill="#231f20" textLength="8.00" lengthAdjust="spacingAndGlyphs">H</text>
<path d="M363.40 590.00 V596.40 M360.50 596.40 H366.30" stroke="#231f20" stroke-width="0.80" fill="none"/>
<text x="368.94" y="592.00" font-size="11.50" fill="#231f20" textLength="14.15" lengthAdjust="spacingAndGlyphs">(T)</text>
<text transform="translate(241.30 391.60) rotate(-90)" font-size="12.0" text-anchor="middle" fill="#231f20"><tspan font-style="italic">δ</tspan>G (%)</text>
<text x="308.07" y="245.80" font-size="12.20" font-style="italic" fill="#231f20" textLength="7.99" lengthAdjust="spacingAndGlyphs">D</text>
<text x="316.50" y="246.70" font-size="12.81" fill="#231f20" textLength="4.27" lengthAdjust="spacingAndGlyphs">/</text>
<text x="321.70" y="245.80" font-size="13.42" fill="#231f20" textLength="6.40" lengthAdjust="spacingAndGlyphs">ε</text>
<text x="328.09" y="249.30" font-size="8.80" fill="#231f20" textLength="5.68" lengthAdjust="spacingAndGlyphs">0</text>
<text x="336.59" y="246.40" font-size="12.20" fill="#231f20" textLength="5.90" lengthAdjust="spacingAndGlyphs">=</text>
<text x="345.07" y="245.80" font-size="12.20" fill="#231f20" textLength="18.36" lengthAdjust="spacingAndGlyphs">0.3</text>
<text x="368.55" y="245.80" font-size="12.20" fill="#231f20" textLength="6.72" lengthAdjust="spacingAndGlyphs">V</text>
<text x="378.50" y="245.80" font-size="12.20" fill="#231f20" textLength="19.29" lengthAdjust="spacingAndGlyphs">nm</text>
<text x="397.58" y="239.90" font-size="8.60" fill="#231f20" textLength="7.20" lengthAdjust="spacingAndGlyphs">−1</text>
<text x="401.86" y="410.60" font-size="12.40" font-style="italic" fill="#231f20" textLength="8.21" lengthAdjust="spacingAndGlyphs">H</text>
<path d="M413.75 408.00 V414.23 M411.00 414.23 H416.50" stroke="#231f20" stroke-width="0.75" fill="none"/>
<line x1="386.0" y1="418.7" x2="419.5" y2="418.7" stroke="#3f74ba" stroke-width="2.0"/>
<path d="M425.6 418.7 L418.0 415.2 L419.6 418.7 L418.0 422.2 Z" fill="#3f74ba"/>
<line x1="390.0" y1="432.8" x2="423.7" y2="432.8" stroke="#c24a48" stroke-width="2.0"/>
<path d="M384.0 432.8 L391.6 429.3 L390.0 432.8 L391.6 436.3 Z" fill="#c24a48"/>
<path d="M519.30 301.10 L519.60 301.41 L519.90 302.17 L520.20 302.96 L520.50 303.34 L520.80 303.89 L521.10 304.47 L521.40 304.63 L521.70 305.04 L522.00 306.29 L522.30 306.58 L522.53 308.47 L522.77 309.51 L523.00 309.91 L523.23 310.17 L523.47 310.71 L523.70 311.38 L523.93 312.11 L524.17 312.78 L524.40 313.40 L524.63 313.77 L524.87 314.53 L525.10 315.25 L525.33 316.11 L525.57 317.24 L525.80 317.60 L526.14 318.86 L526.47 319.47 L526.81 320.05 L527.15 320.58 L527.49 321.38 L527.83 321.65 L528.16 322.59 L528.50 322.58 L528.87 323.47 L529.24 324.98 L529.61 325.88 L529.99 325.51 L530.36 326.27 L530.73 326.48 L531.10 326.90 L531.42 327.52 L531.74 328.93 L532.05 329.42 L532.37 330.08 L532.69 331.11 L533.01 332.25 L533.33 332.42 L533.65 333.28 L533.96 333.36 L534.28 334.16 L534.60 333.74 L534.89 334.71 L535.18 335.44 L535.47 336.88 L535.76 337.36 L536.05 337.31 L536.34 338.00 L536.63 338.53 L536.92 339.89 L537.21 340.47 L537.50 341.27 L537.79 341.38 L538.09 342.25 L538.38 343.39 L538.67 343.88 L538.96 345.67 L539.26 345.50 L539.55 346.24 L539.84 346.12 L540.14 346.45 L540.43 347.17 L540.72 348.32 L541.01 348.99 L541.31 349.41 L541.60 350.11 L541.99 350.97 L542.38 352.09 L542.77 353.40 L543.17 353.34 L543.56 354.17 L543.95 354.24 L544.34 354.09 L544.73 355.24 L545.12 356.08 L545.52 356.71 L545.91 357.23 L546.30 357.56 L546.69 357.77 L547.08 358.46 L547.47 360.03 L547.86 360.43 L548.25 360.53 L548.64 361.55 L549.03 361.70 L549.42 362.41 L549.81 363.73 L550.20 363.92 L550.65 364.49 L551.11 365.04 L551.56 365.11 L552.02 366.63 L552.47 366.93 L552.93 367.55 L553.38 367.94 L553.84 367.83 L554.29 368.66 L554.75 369.55 L555.20 369.86 L555.62 371.24 L556.04 372.02 L556.46 372.43 L556.88 373.13 L557.30 373.51 L557.72 374.20 L558.14 375.37 L558.56 375.37 L558.98 375.80 L559.40 375.96 L559.82 376.45 L560.24 377.31 L560.66 378.31 L561.08 378.29 L561.50 379.53 L561.92 380.72 L562.34 381.46 L562.76 382.32 L563.18 383.20 L563.60 383.36 L564.31 383.82 L565.03 384.18 L565.74 383.96 L566.46 384.49 L567.17 384.41 L567.89 384.56 L568.60 384.45 L569.38 384.21 L570.15 383.27 L570.93 383.68 L571.70 383.34 L572.34 382.90 L572.99 382.54 L573.63 381.92 L574.28 381.31 L574.92 380.64 L575.57 381.18 L576.21 380.46 L576.86 380.68 L577.50 379.98 L578.24 380.19 L578.98 379.92 L579.71 380.05 L580.45 379.32 L581.19 379.14 L581.92 379.11 L582.66 378.32 L583.40 378.72 L584.12 378.44 L584.85 378.19 L585.58 378.17 L586.30 378.76 L587.02 378.63 L587.75 379.16 L588.48 378.83 L589.20 378.37 L589.93 377.80 L590.65 377.39 L591.38 377.07 L592.10 377.58 L592.83 377.52 L593.55 377.32 L594.27 376.96 L595.00 377.00 L595.78 377.39 L596.57 376.85 L597.35 376.42 L598.13 376.00 L598.92 375.62 L599.70 376.07 L600.48 376.00 L601.27 376.09 L602.05 376.49 L602.83 376.80 L603.62 377.44 L604.40 377.37 L605.12 377.53 L605.85 376.66 L606.58 376.60 L607.30 376.58 L608.02 377.57 L608.75 377.30 L609.48 377.21 L610.20 377.72 L610.94 377.44 L611.68 377.84 L612.41 378.35 L613.15 378.86 L613.89 378.36 L614.62 378.72 L615.36 378.56 L616.10 378.60 L616.87 378.40 L617.63 377.50 L618.40 377.72 L619.17 378.20 L619.93 378.20 L620.70 378.63 L621.44 378.77 L622.18 379.69 L622.91 379.31 L623.65 380.44 L624.39 380.03 L625.12 380.53 L625.86 380.89 L626.60 380.95 L627.33 381.54 L628.05 382.24 L628.77 382.59 L629.50 382.38 L630.23 382.78 L630.95 382.80 L631.67 382.81 L632.40 382.68 L632.91 382.99 L633.43 384.36 L633.94 385.19 L634.46 385.49 L634.97 386.42 L635.49 386.69 L636.00 387.65 L636.35 386.50 L636.70 385.58 L637.06 385.10 L637.41 384.37 L637.76 383.19 L638.11 382.59 L638.47 381.03 L638.82 380.80 L639.17 379.80 L639.52 379.65 L639.88 378.51 L640.23 378.20 L640.58 377.73 L640.93 377.17 L641.29 376.92 L641.64 376.20 L641.99 376.29 L642.34 374.69 L642.70 373.96 L643.05 372.74 L643.40 372.73 L643.91 372.50 L644.42 372.67 L644.93 371.66 L645.44 371.12 L645.96 370.94 L646.47 370.00 L646.98 370.28 L647.49 370.08 L648.00 369.13 L648.51 368.06 L649.02 367.62 L649.52 367.08 L650.03 366.03 L650.54 366.35 L651.05 365.32 L651.56 365.17 L652.07 364.45 L652.58 364.04 L653.08 362.95 L653.59 362.84 L654.10 362.67 L654.38 361.93 L654.66 360.63 L654.94 359.83 L655.21 359.48 L655.49 359.20 L655.77 358.36 L656.05 357.80 L656.33 357.28 L656.61 357.36 L656.89 355.81 L657.16 355.57 L657.44 354.14 L657.72 353.16 L658.00 352.56 L658.42 351.46 L658.84 351.27 L659.26 350.37 L659.68 349.98 L660.10 349.97 L660.52 349.37 L660.94 349.05 L661.36 348.04 L661.78 347.05 L662.20 346.43 L662.52 345.57 L662.83 345.08 L663.15 344.94 L663.47 344.32 L663.78 344.08 L664.10 343.50 L664.42 342.27 L664.73 342.06 L665.05 341.58 L665.37 340.51 L665.68 339.97 L666.00 339.33 L666.35 339.47 L666.70 338.81 L667.05 337.52 L667.40 336.87 L667.75 335.36 L668.10 334.89 L668.45 333.87 L668.80 333.55 L669.15 332.56 L669.50 332.21 L669.85 331.00 L670.20 330.99 L670.37 330.56 L670.54 329.97 L670.70 328.56 L670.87 328.62 L671.04 327.88 L671.21 327.53 L671.38 326.16 L671.55 325.33 L671.71 324.39 L671.88 324.25 L672.05 323.82 L672.22 322.96 L672.39 322.27 L672.55 321.94 L672.72 321.18 L672.89 319.81 L673.06 319.52 L673.23 320.06 L673.40 319.36 L673.56 318.01 L673.73 317.18 L673.90 316.28 L674.06 315.75 L674.22 314.54 L674.38 314.63 L674.54 313.43 L674.69 313.08 L674.85 312.41 L675.01 311.53 L675.17 310.82 L675.33 309.96 L675.49 309.90 L675.65 308.97 L675.81 308.23 L675.96 307.43 L676.12 306.63 L676.28 306.08 L676.44 305.74 L676.60 304.81 L676.79 304.11 L676.99 303.05 L677.18 302.17 L677.38 301.02 L677.57 301.08 L677.76 300.70 L677.96 300.15 L678.15 299.37 L678.35 298.27 L678.54 297.21 L678.74 296.76 L678.93 296.19 L679.12 295.33 L679.32 294.45 L679.51 293.30 L679.71 292.55 L679.90 291.72 L680.04 290.86 L680.17 290.51 L680.31 290.03 L680.44 289.45 L680.58 289.55 L680.72 288.58 L680.85 287.93 L680.99 287.42 L681.12 286.08 L681.26 285.13 L681.40 283.64 L681.53 282.86 L681.67 282.51 L681.80 282.20 L681.94 281.34 L682.08 281.06 L682.21 279.86 L682.35 279.61 L682.48 278.79 L682.62 278.72 L682.76 278.01 L682.89 276.73 L683.03 276.58 L683.16 275.46 L683.30 275.63 L683.34 274.29 L683.38 273.59 L683.42 272.99 L683.46 272.21 L683.49 271.61 L683.53 270.18 L683.57 269.32 L683.61 268.30 L683.65 267.83 L683.69 267.76 L683.73 267.00 L683.77 266.65 L683.81 265.53 L683.84 264.74 L683.88 263.52 L683.92 262.58 L683.96 262.08 L684.00 261.70 L684.01 261.08 L684.02 259.96 L684.03 260.39 L684.04 259.25 L684.05 259.64 L684.06 258.43 L684.07 257.86 L684.08 256.18 L684.09 256.00 L684.10 255.16 L684.11 254.28 L684.12 254.04 L684.13 253.41 L684.14 252.53 L684.15 252.27 L684.16 251.14 L684.17 250.10 L684.18 249.28 L684.19 248.81 L684.20 248.00" fill="none" stroke="#de4f49" stroke-width="1.50" stroke-linejoin="round" stroke-linecap="round"/>
<path d="M519.30 296.10 L519.47 296.49 L519.64 297.23 L519.81 298.29 L519.99 299.34 L520.16 299.80 L520.33 300.32 L520.50 301.29 L520.77 301.64 L521.03 302.41 L521.30 303.66 L521.57 303.48 L521.83 304.15 L522.10 305.61 L522.37 306.20 L522.63 307.45 L522.90 307.14 L523.23 307.62 L523.56 308.68 L523.89 309.34 L524.21 311.19 L524.54 311.28 L524.87 312.30 L525.20 312.77 L525.47 313.61 L525.73 313.48 L526.00 314.25 L526.27 314.20 L526.53 315.28 L526.80 315.41 L527.07 316.27 L527.33 317.03 L527.60 317.82 L527.81 318.90 L528.02 319.62 L528.24 320.13 L528.45 320.48 L528.66 321.64 L528.88 323.08 L529.09 323.40 L529.30 324.27 L529.63 325.02 L529.97 325.97 L530.30 326.23 L530.63 326.35 L530.97 327.47 L531.30 328.37 L531.63 328.92 L531.97 329.58 L532.30 330.32 L532.57 330.18 L532.84 330.93 L533.11 332.18 L533.38 332.36 L533.65 333.22 L533.92 334.01 L534.18 334.02 L534.45 334.93 L534.72 335.81 L534.99 336.80 L535.26 337.79 L535.53 339.23 L535.80 339.52 L536.12 340.35 L536.44 340.84 L536.77 342.13 L537.09 341.88 L537.41 342.67 L537.73 343.31 L538.06 343.90 L538.38 344.37 L538.70 345.56 L539.09 346.09 L539.48 346.31 L539.87 345.81 L540.26 347.04 L540.64 348.41 L541.03 349.21 L541.42 349.71 L541.81 350.86 L542.20 351.60 L542.61 351.65 L543.02 352.65 L543.43 352.55 L543.84 353.50 L544.25 354.86 L544.66 355.49 L545.07 355.33 L545.48 355.72 L545.89 355.75 L546.30 356.65 L546.73 357.50 L547.17 358.66 L547.60 358.75 L548.03 360.03 L548.47 359.98 L548.90 360.61 L549.33 361.55 L549.77 361.80 L550.20 362.76 L550.65 363.47 L551.11 363.66 L551.56 364.52 L552.02 365.50 L552.47 365.86 L552.93 366.25 L553.38 366.87 L553.84 367.61 L554.29 367.67 L554.75 368.84 L555.20 369.55 L555.62 370.33 L556.04 371.04 L556.46 371.43 L556.88 371.43 L557.30 371.55 L557.72 372.17 L558.14 373.22 L558.56 373.48 L558.98 374.01 L559.40 374.27 L559.72 375.38 L560.04 375.99 L560.37 376.58 L560.69 377.45 L561.01 378.32 L561.33 378.24 L561.66 378.61 L561.98 379.62 L562.30 380.31 L563.00 380.33 L563.70 380.24 L564.40 380.42 L565.10 381.31 L565.80 381.48 L566.54 381.69 L567.27 381.18 L568.01 380.96 L568.75 381.46 L569.49 380.57 L570.23 380.79 L570.96 380.87 L571.70 381.22 L572.34 381.39 L572.99 380.61 L573.63 380.38 L574.28 379.77 L574.92 379.54 L575.57 379.40 L576.21 378.70 L576.86 378.79 L577.50 378.49 L578.24 378.00 L578.98 378.66 L579.71 378.50 L580.45 378.92 L581.19 379.28 L581.92 378.98 L582.66 378.88 L583.40 379.23 L584.12 378.71 L584.85 378.59 L585.58 378.29 L586.30 377.87 L587.02 377.98 L587.75 377.40 L588.48 376.90 L589.20 376.85 L589.93 377.65 L590.65 377.55 L591.38 377.94 L592.10 377.57 L592.83 376.67 L593.55 376.58 L594.27 376.46 L595.00 375.96 L595.78 375.58 L596.57 376.03 L597.35 375.97 L598.13 376.02 L598.92 375.61 L599.70 375.21 L600.48 375.24 L601.27 375.65 L602.05 376.07 L602.83 376.54 L603.62 376.34 L604.40 377.27 L605.12 377.31 L605.85 376.99 L606.58 377.04 L607.30 377.00 L608.02 377.77 L608.75 377.33 L609.48 378.17 L610.20 377.63 L610.94 377.63 L611.68 377.53 L612.41 377.28 L613.15 377.36 L613.89 377.59 L614.62 377.90 L615.36 378.64 L616.10 378.24 L616.87 377.48 L617.63 377.81 L618.40 377.91 L619.17 378.17 L619.93 378.44 L620.70 378.10 L621.44 378.39 L622.18 378.48 L622.91 378.33 L623.65 378.43 L624.39 378.90 L625.12 378.72 L625.86 379.52 L626.60 379.63 L627.33 379.68 L628.05 379.89 L628.77 380.16 L629.50 380.64 L630.23 381.38 L630.95 381.45 L631.67 380.81 L632.40 380.76 L632.98 380.83 L633.57 380.88 L634.15 381.18 L634.73 381.43 L635.32 382.31 L635.90 382.94 L636.40 382.78 L636.90 382.43 L637.40 382.46 L637.90 380.97 L638.40 380.74 L638.90 379.48 L639.40 379.28 L639.65 378.41 L639.89 377.95 L640.14 377.07 L640.38 376.33 L640.63 376.19 L640.87 376.15 L641.12 375.65 L641.36 375.50 L641.61 374.14 L641.85 373.69 L642.10 372.38 L642.60 371.25 L643.10 371.05 L643.60 370.88 L644.10 370.68 L644.60 370.07 L645.10 369.14 L645.60 368.82 L646.10 368.13 L646.52 366.91 L646.93 366.35 L647.35 365.60 L647.76 364.76 L648.18 364.22 L648.59 363.87 L649.01 362.89 L649.42 363.20 L649.84 362.63 L650.25 361.79 L650.67 361.11 L651.08 361.04 L651.50 360.31 L652.05 359.67 L652.60 359.12 L653.15 358.51 L653.70 357.79 L654.25 357.50 L654.80 357.75 L655.02 356.71 L655.25 355.98 L655.47 355.02 L655.70 354.37 L655.92 353.85 L656.15 353.26 L656.38 353.15 L656.60 351.87 L656.83 351.21 L657.05 350.81 L657.27 350.04 L657.50 349.52 L658.07 348.54 L658.64 348.23 L659.21 348.05 L659.79 348.24 L660.36 347.82 L660.93 347.08 L661.50 346.88 L661.74 346.39 L661.99 344.85 L662.23 343.82 L662.47 343.64 L662.71 343.04 L662.96 342.38 L663.20 341.87 L663.44 341.82 L663.69 340.84 L663.93 339.96 L664.17 339.32 L664.41 338.40 L664.66 337.34 L664.90 336.72 L665.26 335.78 L665.63 335.36 L665.99 335.09 L666.35 334.40 L666.72 333.52 L667.08 333.48 L667.45 332.57 L667.81 332.02 L668.17 331.40 L668.54 330.16 L668.90 329.91 L669.19 329.41 L669.47 328.95 L669.76 328.22 L670.04 327.30 L670.33 326.43 L670.61 325.59 L670.90 324.82 L671.19 324.73 L671.47 323.71 L671.76 323.18 L672.04 322.85 L672.33 321.55 L672.61 321.31 L672.90 320.54 L673.14 319.51 L673.39 319.15 L673.63 318.77 L673.87 319.03 L674.11 318.15 L674.36 317.68 L674.60 316.76 L674.84 316.04 L675.09 314.27 L675.33 313.68 L675.57 313.15 L675.81 312.43 L676.06 311.54 L676.30 310.43 L676.70 310.30 L677.10 309.64 L677.50 308.57 L677.90 308.55 L678.15 307.56 L678.40 307.23 L678.65 306.70 L678.90 305.78 L679.15 305.40 L679.40 304.31 L679.65 303.39 L679.90 303.61 L680.15 302.90 L680.40 302.78 L680.65 301.25 L680.90 300.58 L681.15 300.08 L681.40 299.31 L681.65 298.97 L681.90 298.47 L682.03 297.49 L682.15 296.46 L682.28 295.61 L682.41 294.41 L682.53 293.28 L682.66 293.07 L682.78 292.04 L682.91 290.94 L683.04 291.02 L683.16 289.81 L683.29 289.92 L683.42 289.47 L683.54 288.45 L683.67 288.16 L683.79 287.95 L683.92 286.95 L684.05 285.95 L684.17 284.89 L684.30 284.20" fill="none" stroke="#4a7ec6" stroke-width="1.50" stroke-linejoin="round" stroke-linecap="round"/>
<path d="M517.40 394.92 L517.58 395.85 L517.76 396.69 L517.93 398.26 L518.11 398.80 L518.29 399.61 L518.47 399.86 L518.64 400.59 L518.82 401.17 L519.00 401.85 L519.23 401.92 L519.45 402.49 L519.67 403.77 L519.90 404.19 L520.12 404.96 L520.35 404.91 L520.58 406.17 L520.80 407.32 L521.03 408.71 L521.25 408.56 L521.48 408.75 L521.70 409.72 L521.91 410.52 L522.12 410.82 L522.32 411.64 L522.53 412.44 L522.74 413.02 L522.95 414.47 L523.15 414.44 L523.36 415.47 L523.57 416.21 L523.78 416.97 L523.98 417.68 L524.19 418.40 L524.40 419.60 L524.65 420.04 L524.90 421.57 L525.15 421.51 L525.40 422.66 L525.65 422.75 L525.90 423.62 L526.15 424.60 L526.40 425.98 L526.65 425.81 L526.90 425.86 L527.15 426.30 L527.40 427.95 L527.65 428.36 L527.90 429.22 L528.15 430.06 L528.40 430.16 L528.68 431.08 L528.97 431.75 L529.25 432.03 L529.53 432.70 L529.82 433.96 L530.10 433.99 L530.38 434.76 L530.67 434.95 L530.95 435.57 L531.23 436.89 L531.52 437.39 L531.80 438.62 L531.97 439.60 L532.15 440.68 L532.32 440.96 L532.49 442.26 L532.67 442.65 L532.84 443.66 L533.02 444.05 L533.19 444.29 L533.36 445.21 L533.54 444.93 L533.71 445.98 L533.88 446.48 L534.06 446.74 L534.23 447.30 L534.41 448.65 L534.58 449.84 L534.75 450.44 L534.93 450.81 L535.10 451.51 L535.26 452.86 L535.42 453.63 L535.59 454.37 L535.75 455.42 L535.91 455.35 L536.07 455.86 L536.23 455.83 L536.40 456.96 L536.56 457.49 L536.72 458.15 L536.88 459.20 L537.04 460.54 L537.20 461.31 L537.37 462.19 L537.53 462.64 L537.69 463.07 L537.85 464.33 L538.01 465.23 L538.18 465.46 L538.34 465.77 L538.50 466.22 L539.03 466.02 L539.57 467.12 L540.10 468.59 L540.63 468.73 L541.17 469.51 L541.70 470.32 L541.91 470.98 L542.11 470.87 L542.32 471.70 L542.53 471.82 L542.73 473.24 L542.94 474.11 L543.14 474.78 L543.35 475.32 L543.56 475.93 L543.76 477.01 L543.97 477.49 L544.17 477.66 L544.38 479.15 L544.59 479.94 L544.79 480.84 L545.00 481.17 L545.31 481.06 L545.62 481.94 L545.93 482.40 L546.24 482.77 L546.55 483.95 L546.85 484.14 L547.16 485.22 L547.47 485.91 L547.78 486.83 L548.09 488.06 L548.40 489.14 L548.65 489.53 L548.91 490.66 L549.16 491.26 L549.42 492.28 L549.67 492.22 L549.92 493.10 L550.18 493.51 L550.43 493.60 L550.68 494.81 L550.94 495.01 L551.19 495.89 L551.45 497.41 L551.70 497.43 L551.98 497.58 L552.27 498.40 L552.55 498.27 L552.83 499.47 L553.12 499.99 L553.40 501.42 L553.68 502.08 L553.97 502.56 L554.25 503.17 L554.53 503.28 L554.82 504.04 L555.10 504.29 L555.35 505.70 L555.61 506.55 L555.86 507.23 L556.12 507.67 L556.37 508.14 L556.62 508.66 L556.88 509.01 L557.13 510.43 L557.38 511.51 L557.64 512.65 L557.89 513.06 L558.15 513.44 L558.40 514.05 L558.59 514.96 L558.77 515.56 L558.96 515.86 L559.14 517.13 L559.33 517.33 L559.51 518.39 L559.70 519.19 L559.89 519.88 L560.07 519.81 L560.26 520.16 L560.44 520.57 L560.63 521.27 L560.81 521.64 L561.00 522.64 L561.19 523.98 L561.38 524.89 L561.58 525.74 L561.77 527.25 L561.96 527.51 L562.15 528.32 L562.35 529.27 L562.54 529.40 L562.73 530.53 L562.92 530.41 L563.12 531.44 L563.31 531.33 L563.50 531.95 L564.30 533.20 L565.10 533.81 L565.34 534.96 L565.59 535.07 L565.83 535.73 L566.07 536.18 L566.31 536.83 L566.56 537.66 L566.80 538.27 L567.22 539.56 L567.65 539.98 L568.08 540.50 L568.50 540.70 L569.20 540.44 L569.90 540.09 L570.60 540.66 L571.30 540.44 L572.00 540.70 L572.70 541.65 L573.40 541.71 L574.10 541.90 L574.80 542.15 L575.50 541.52 L576.20 541.86 L576.90 541.86 L577.59 541.70 L578.28 541.54 L578.98 541.89 L579.67 542.18 L580.36 542.68 L581.05 543.03 L581.74 543.41 L582.43 543.09 L583.12 544.20 L583.82 544.35 L584.51 545.31 L585.20 545.54 L585.87 545.28 L586.54 545.83 L587.21 545.40 L587.88 545.17 L588.55 545.44 L589.22 545.52 L589.89 545.95 L590.56 546.34 L591.23 546.82 L591.90 547.23 L592.64 546.28 L593.39 546.41 L594.13 546.29 L594.88 545.75 L595.62 545.54 L596.37 545.49 L597.11 546.10 L597.86 546.16 L598.60 545.80 L599.31 546.36 L600.02 545.69 L600.73 545.26 L601.44 545.50 L602.16 545.57 L602.87 545.43 L603.58 545.70 L604.29 545.53 L605.00 545.80 L605.70 545.91 L606.40 545.19 L607.10 545.36 L607.80 544.59 L608.50 545.05 L609.20 544.84 L609.90 544.61 L610.60 544.30 L611.30 544.90 L612.00 544.76 L612.73 544.87 L613.45 544.70 L614.18 544.38 L614.91 543.83 L615.64 543.15 L616.36 542.23 L617.09 542.00 L617.82 541.53 L618.55 541.40 L619.27 541.20 L620.00 542.13 L620.71 542.20 L621.43 541.43 L622.14 541.98 L622.86 541.68 L623.57 541.62 L624.29 541.72 L625.00 540.93 L625.71 541.08 L626.43 540.72 L627.14 541.21 L627.86 540.87 L628.57 540.73 L629.29 540.98 L630.00 540.78 L630.67 539.64 L631.33 539.30 L632.00 539.26 L632.67 540.06 L633.33 539.96 L634.00 539.20 L634.67 538.43 L635.33 538.25 L636.00 537.94 L636.40 537.29 L636.80 536.56 L637.20 535.90 L637.60 535.76 L638.00 535.39 L638.40 534.37 L638.80 533.79 L639.20 532.57 L639.60 532.73 L640.00 531.96 L640.15 531.47 L640.30 530.96 L640.45 530.70 L640.60 529.63 L640.75 528.33 L640.90 527.98 L641.05 526.95 L641.20 526.74 L641.35 525.44 L641.50 524.88 L641.65 524.80 L641.80 523.90 L641.95 522.91 L642.10 522.74 L642.25 521.53 L642.40 520.58 L642.55 519.99 L642.70 519.28 L642.85 518.67 L643.00 518.22 L643.19 517.47 L643.38 516.95 L643.57 516.82 L643.76 516.20 L643.95 514.81 L644.14 514.74 L644.33 513.35 L644.52 512.91 L644.71 512.03 L644.90 511.83 L645.10 510.51 L645.29 509.78 L645.48 509.05 L645.67 508.38 L645.86 508.13 L646.05 506.88 L646.24 506.50 L646.43 505.68 L646.62 504.64 L646.81 503.69 L647.00 502.78 L647.50 502.65 L648.00 501.69 L648.50 501.44 L649.00 500.65 L649.50 499.48 L650.00 499.58 L650.25 499.13 L650.50 498.86 L650.75 498.35 L651.00 498.05 L651.25 497.53 L651.50 496.59 L651.75 495.94 L652.00 494.82 L652.25 493.78 L652.50 492.91 L652.75 492.80 L653.00 492.02 L653.30 490.94 L653.60 489.83 L653.90 489.28 L654.20 488.51 L654.50 488.56 L654.80 487.95 L655.10 487.57 L655.40 487.05 L655.70 486.42 L656.00 485.36 L656.19 484.17 L656.37 483.44 L656.56 482.74 L656.75 482.41 L656.93 482.57 L657.12 481.44 L657.30 480.62 L657.49 478.98 L657.68 478.79 L657.86 478.03 L658.05 477.81 L658.24 476.99 L658.42 476.32 L658.61 475.90 L658.80 475.23 L658.98 474.79 L659.17 473.63 L659.35 472.99 L659.54 472.51 L659.73 471.00 L659.91 470.15 L660.10 470.15 L660.32 470.11 L660.53 469.22 L660.75 468.17 L660.96 468.15 L661.18 467.25 L661.40 465.99 L661.61 464.86 L661.83 463.64 L662.05 463.38 L662.26 463.26 L662.48 462.50 L662.69 462.27 L662.91 460.99 L663.13 460.30 L663.34 459.61 L663.56 459.14 L663.77 457.82 L663.99 457.55 L664.21 456.97 L664.42 456.78 L664.64 455.86 L664.85 455.25 L665.07 454.59 L665.29 454.26 L665.50 453.65 L665.72 452.99 L665.94 451.91 L666.15 450.85 L666.37 450.21 L666.58 449.28 L666.80 448.37 L667.02 448.26 L667.24 447.01 L667.47 446.26 L667.69 445.83 L667.91 445.48 L668.13 445.37 L668.36 444.56 L668.58 444.11 L668.80 443.57 L669.02 442.59 L669.24 441.56 L669.47 441.02 L669.69 440.41 L669.91 439.39 L670.13 438.77 L670.36 438.79 L670.58 437.61 L670.80 437.52 L671.47 437.24 L672.13 436.97 L672.80 436.31 L672.98 434.92 L673.16 434.34 L673.34 433.86 L673.52 433.88 L673.70 432.47 L673.88 431.46 L674.06 429.93 L674.24 429.49 L674.42 428.67 L674.60 428.14 L674.78 427.74 L674.96 427.36 L675.14 426.90 L675.32 426.10 L675.50 425.68 L675.83 424.96 L676.16 424.46 L676.49 423.58 L676.82 423.11 L677.15 421.69 L677.48 420.84 L677.81 419.54 L678.14 418.58 L678.47 418.06 L678.80 417.49 L679.09 416.68 L679.37 415.56 L679.66 415.28 L679.94 414.66 L680.23 414.38 L680.51 413.58 L680.80 413.28 L681.22 412.13 L681.64 411.74 L682.06 411.70 L682.48 411.37 L682.90 410.56 L682.99 409.31 L683.07 408.68 L683.16 407.84 L683.25 406.60 L683.34 406.35 L683.42 405.04 L683.51 405.01 L683.60 404.11 L683.69 404.14 L683.77 402.75 L683.86 401.51 L683.95 400.59 L684.04 399.61 L684.12 399.72 L684.21 398.57 L684.30 398.70" fill="none" stroke="#de4f49" stroke-width="1.50" stroke-linejoin="round" stroke-linecap="round"/>
<path d="M517.40 400.90 L517.93 401.90 L518.47 401.29 L519.00 402.18 L519.28 402.57 L519.56 403.73 L519.84 404.52 L520.12 404.69 L520.40 405.69 L520.65 406.74 L520.90 408.02 L521.15 408.89 L521.40 409.56 L521.65 409.45 L521.90 409.35 L522.15 410.28 L522.40 410.78 L522.56 411.90 L522.72 412.83 L522.88 413.54 L523.04 414.72 L523.19 415.19 L523.35 416.44 L523.51 416.47 L523.67 417.75 L523.83 418.29 L523.99 418.64 L524.15 419.90 L524.31 420.20 L524.46 420.82 L524.62 421.46 L524.78 422.80 L524.94 422.96 L525.10 423.47 L525.75 423.04 L526.40 422.61 L526.58 422.73 L526.76 423.52 L526.95 423.86 L527.13 424.97 L527.31 425.77 L527.49 426.89 L527.67 427.05 L527.85 428.55 L528.04 428.73 L528.22 429.32 L528.40 430.42 L528.74 430.67 L529.08 431.62 L529.41 432.39 L529.75 433.41 L530.09 434.39 L530.42 434.85 L530.76 435.40 L531.10 435.58 L531.31 435.81 L531.52 437.05 L531.72 437.77 L531.93 438.22 L532.14 438.92 L532.35 440.06 L532.55 441.26 L532.76 441.77 L532.97 442.98 L533.18 443.53 L533.38 444.24 L533.59 445.08 L533.80 445.34 L534.45 444.52 L535.10 443.70 L535.18 444.50 L535.25 445.17 L535.33 445.63 L535.41 445.82 L535.48 447.31 L535.56 448.48 L535.64 449.04 L535.71 449.87 L535.79 450.00 L535.86 450.02 L535.94 451.52 L536.02 451.64 L536.09 452.09 L536.17 452.90 L536.25 454.13 L536.32 454.19 L536.40 454.86 L536.67 455.90 L536.94 456.37 L537.21 457.55 L537.48 458.43 L537.75 459.06 L538.02 459.19 L538.29 460.10 L538.56 459.85 L538.83 460.96 L539.10 461.63 L539.39 462.73 L539.68 463.39 L539.97 464.16 L540.26 465.12 L540.54 465.55 L540.83 466.49 L541.12 466.43 L541.41 467.69 L541.70 468.19 L542.04 469.63 L542.38 469.89 L542.72 470.78 L543.06 470.86 L543.40 471.51 L543.53 472.87 L543.67 473.98 L543.80 474.07 L543.93 475.09 L544.07 475.48 L544.20 476.69 L544.33 477.05 L544.47 476.73 L544.60 477.85 L544.73 478.16 L544.87 479.44 L545.00 480.04 L545.34 480.86 L545.68 482.28 L546.02 482.44 L546.36 482.95 L546.70 483.28 L547.04 484.25 L547.38 485.29 L547.72 486.27 L548.06 486.51 L548.40 487.46 L548.67 488.66 L548.95 488.87 L549.23 489.68 L549.50 489.83 L549.77 490.10 L550.05 490.73 L550.33 490.93 L550.60 492.39 L550.88 492.57 L551.15 493.86 L551.43 494.81 L551.70 495.66 L551.98 496.78 L552.27 497.16 L552.55 497.10 L552.83 497.38 L553.12 497.92 L553.40 499.08 L553.68 500.61 L553.97 501.30 L554.25 501.57 L554.53 501.66 L554.82 502.60 L555.10 503.07 L555.38 504.50 L555.65 505.35 L555.92 506.55 L556.20 507.26 L556.48 507.56 L556.75 508.12 L557.02 508.43 L557.30 509.57 L557.58 509.36 L557.85 509.81 L558.12 510.19 L558.40 511.06 L558.59 511.56 L558.77 512.74 L558.96 513.59 L559.14 514.77 L559.33 515.05 L559.51 516.00 L559.70 517.28 L559.89 517.79 L560.07 518.53 L560.26 519.83 L560.44 520.33 L560.63 521.02 L560.81 521.64 L561.00 521.77 L561.18 521.97 L561.36 523.56 L561.54 524.09 L561.71 525.59 L561.89 526.38 L562.07 526.59 L562.25 527.43 L562.43 528.45 L562.61 528.61 L562.79 528.96 L562.96 529.34 L563.14 530.78 L563.32 531.76 L563.50 532.13 L563.69 532.79 L563.88 533.28 L564.08 533.86 L564.27 534.48 L564.46 535.13 L564.65 535.53 L564.85 536.46 L565.04 537.25 L565.23 538.15 L565.42 538.44 L565.62 538.78 L565.81 539.90 L566.00 540.95 L566.83 540.31 L567.67 540.36 L568.50 539.86 L569.21 540.48 L569.93 540.04 L570.64 540.18 L571.36 540.08 L572.07 539.81 L572.79 539.10 L573.50 539.37 L574.24 539.49 L574.99 539.74 L575.73 539.82 L576.48 539.52 L577.22 539.80 L577.97 539.92 L578.71 539.70 L579.46 539.52 L580.20 539.55 L580.91 540.41 L581.63 540.10 L582.34 540.69 L583.06 541.52 L583.77 541.34 L584.49 542.23 L585.20 542.13 L585.94 542.17 L586.69 542.59 L587.43 542.15 L588.18 541.82 L588.92 542.63 L589.67 542.17 L590.41 543.01 L591.16 542.44 L591.90 542.51 L592.77 542.75 L593.63 542.25 L594.50 541.93 L594.66 541.33 L594.82 540.82 L594.98 540.15 L595.14 539.62 L595.30 538.67 L595.45 539.56 L595.60 540.35 L595.75 541.32 L595.90 542.72 L596.05 542.74 L596.20 543.36 L596.93 542.75 L597.65 543.20 L598.38 543.82 L599.10 544.00 L599.83 543.43 L600.55 542.90 L601.27 543.27 L602.00 542.99 L602.75 543.45 L603.50 543.03 L604.25 543.47 L605.00 543.36 L605.73 542.72 L606.46 543.15 L607.19 542.83 L607.91 542.20 L608.64 541.81 L609.37 542.19 L610.10 542.10 L610.95 542.14 L611.80 542.69 L612.65 541.80 L613.50 541.58 L613.73 540.40 L613.97 540.22 L614.20 539.30 L614.40 539.54 L614.60 539.86 L614.80 540.40 L615.00 541.14 L615.90 541.45 L616.80 541.90 L617.47 541.79 L618.14 542.26 L618.81 541.63 L619.48 541.07 L620.15 540.88 L620.82 540.49 L621.49 540.31 L622.16 540.39 L622.83 539.36 L623.50 539.43 L624.20 539.10 L624.90 539.24 L625.60 539.17 L626.30 538.92 L627.00 539.31 L627.70 539.44 L628.40 540.10 L629.10 540.73 L629.80 540.42 L630.50 539.49 L631.20 539.38 L631.90 539.55 L632.49 539.14 L633.07 538.45 L633.66 538.41 L634.24 537.54 L634.83 537.47 L635.41 537.19 L636.00 536.86 L636.38 536.04 L636.76 535.19 L637.13 534.52 L637.51 534.03 L637.89 532.74 L638.27 531.86 L638.64 531.28 L639.02 531.09 L639.40 531.07 L639.53 529.54 L639.66 528.66 L639.79 527.83 L639.93 527.62 L640.06 526.75 L640.19 525.15 L640.32 524.88 L640.45 524.31 L640.58 523.48 L640.72 523.02 L640.85 521.56 L640.98 521.44 L641.11 521.18 L641.24 520.57 L641.37 520.23 L641.51 519.03 L641.64 518.51 L641.77 517.41 L641.90 516.44 L642.09 515.78 L642.28 514.91 L642.47 514.50 L642.66 514.23 L642.85 513.62 L643.05 512.48 L643.24 512.03 L643.43 511.24 L643.62 510.54 L643.81 510.19 L644.00 509.27 L644.19 509.24 L644.38 507.94 L644.57 506.79 L644.76 506.69 L644.95 505.41 L645.15 504.80 L645.34 504.86 L645.53 503.78 L645.72 503.01 L645.91 502.28 L646.10 501.93 L646.60 501.72 L647.10 501.42 L647.60 500.33 L648.10 499.67 L648.60 498.61 L648.88 497.74 L649.17 497.39 L649.45 496.30 L649.73 495.67 L650.02 496.00 L650.30 495.13 L650.58 494.07 L650.87 493.67 L651.15 492.95 L651.43 492.03 L651.72 491.64 L652.00 490.60 L652.33 490.27 L652.66 489.45 L652.99 488.62 L653.32 487.09 L653.65 486.47 L653.98 485.44 L654.31 485.28 L654.64 484.87 L654.97 484.34 L655.30 483.88 L655.53 482.93 L655.75 482.57 L655.98 481.95 L656.21 481.48 L656.43 480.91 L656.66 480.17 L656.89 479.80 L657.11 478.44 L657.34 477.92 L657.57 477.07 L657.79 476.35 L658.02 475.73 L658.25 474.70 L658.47 474.40 L658.70 473.59 L658.93 472.68 L659.17 471.52 L659.40 471.59 L659.63 470.70 L659.87 470.12 L660.10 468.69 L660.29 467.53 L660.49 467.06 L660.68 466.49 L660.88 466.09 L661.07 464.80 L661.26 463.98 L661.46 463.73 L661.65 463.16 L661.85 462.18 L662.04 460.95 L662.24 461.09 L662.43 460.05 L662.62 459.78 L662.82 459.12 L663.01 457.66 L663.21 456.94 L663.40 457.28 L663.64 456.86 L663.89 456.75 L664.13 455.93 L664.37 454.70 L664.61 454.30 L664.86 453.59 L665.10 452.27 L665.34 451.47 L665.59 450.74 L665.83 450.34 L666.07 449.80 L666.31 449.09 L666.56 448.43 L666.80 448.01 L667.07 447.05 L667.34 446.17 L667.61 445.19 L667.88 444.84 L668.15 444.06 L668.42 443.33 L668.69 443.01 L668.96 442.23 L669.23 442.17 L669.50 441.69 L669.61 440.54 L669.72 439.18 L669.83 438.89 L669.93 438.25 L670.04 437.19 L670.15 435.96 L670.26 435.50 L670.37 434.84 L670.47 433.83 L670.58 433.11 L670.69 432.29 L670.80 431.19 L670.91 430.47 L671.02 430.08 L671.12 429.78 L671.23 429.97 L671.34 429.50 L671.45 428.36 L671.56 427.56 L671.67 426.90 L671.77 425.40 L671.88 425.19 L671.99 424.08 L672.10 423.13 L672.18 422.17 L672.27 421.89 L672.35 421.30 L672.44 421.00 L672.52 420.55 L672.61 419.60 L672.69 418.90 L672.78 417.68 L672.86 416.77 L672.95 415.94 L673.03 415.25 L673.12 414.84 L673.20 414.48 L673.40 414.76 L673.60 415.32 L673.80 416.71 L674.00 416.46 L674.20 417.51 L674.40 417.98 L674.60 418.39 L674.80 417.71 L675.00 417.27 L675.20 416.79 L675.40 415.79 L675.60 415.10 L675.80 414.16 L676.00 413.87 L676.20 413.52 L676.40 412.38 L676.60 411.60 L676.80 411.20 L677.02 409.98 L677.24 409.44 L677.47 409.22 L677.69 408.01 L677.91 407.49 L678.13 406.97 L678.36 405.39 L678.58 404.86 L678.80 403.47 L679.47 403.10 L680.13 403.59 L680.80 403.22 L681.06 402.94 L681.32 402.52 L681.59 401.71 L681.85 401.29 L682.11 400.64 L682.38 399.63 L682.64 398.67 L682.90 397.97 L683.10 396.76 L683.30 396.73 L683.50 395.70 L683.70 395.51 L683.90 395.26 L684.10 394.40 L684.30 393.30" fill="none" stroke="#4a7ec6" stroke-width="1.50" stroke-linejoin="round" stroke-linecap="round"/>
<path d="M517.50 224.50 V392.00 M684.50 224.50 V392.00 M517.00 392.00 H685.00" stroke="#4d4d4d" stroke-width="1" fill="none"/>
<line x1="517.00" y1="224.50" x2="685.00" y2="224.50" stroke="#4d4d4d" stroke-width="1.00"/>
<line x1="545.30" y1="392.00" x2="545.30" y2="388.10" stroke="#3a3a3a" stroke-width="1.00"/>
<line x1="601.00" y1="392.00" x2="601.00" y2="388.10" stroke="#3a3a3a" stroke-width="1.00"/>
<line x1="656.60" y1="392.00" x2="656.60" y2="388.10" stroke="#3a3a3a" stroke-width="1.00"/>
<path d="M517.50 392.00 V559.50 M684.50 392.00 V559.50 M517.00 559.50 H685.00" stroke="#4d4d4d" stroke-width="1" fill="none"/>
<line x1="545.30" y1="559.50" x2="545.30" y2="555.60" stroke="#3a3a3a" stroke-width="1.00"/>
<line x1="601.00" y1="559.50" x2="601.00" y2="555.60" stroke="#3a3a3a" stroke-width="1.00"/>
<line x1="656.60" y1="559.50" x2="656.60" y2="555.60" stroke="#3a3a3a" stroke-width="1.00"/>
<line x1="517.50" y1="265.90" x2="521.40" y2="265.90" stroke="#3a3a3a" stroke-width="1.00"/>
<text x="496.96" y="269.30" font-size="10.40" fill="#231f20" textLength="13.39" lengthAdjust="spacingAndGlyphs">40</text>
<line x1="517.50" y1="377.50" x2="521.40" y2="377.50" stroke="#3a3a3a" stroke-width="1.00"/>
<text x="503.94" y="380.90" font-size="10.40" fill="#231f20" textLength="6.37" lengthAdjust="spacingAndGlyphs">0</text>
<line x1="517.50" y1="433.50" x2="521.40" y2="433.50" stroke="#3a3a3a" stroke-width="1.00"/>
<text x="496.96" y="436.90" font-size="10.40" fill="#231f20" textLength="13.39" lengthAdjust="spacingAndGlyphs">40</text>
<line x1="517.50" y1="545.10" x2="521.40" y2="545.10" stroke="#3a3a3a" stroke-width="1.00"/>
<text x="503.94" y="548.50" font-size="10.40" fill="#231f20" textLength="6.37" lengthAdjust="spacingAndGlyphs">0</text>
<text x="533.17" y="274.60" font-size="12.70" fill="#231f20" textLength="14.87" lengthAdjust="spacingAndGlyphs">3L</text>
<text x="533.61" y="428.70" font-size="12.70" fill="#231f20" textLength="13.69" lengthAdjust="spacingAndGlyphs">5L</text>
<text x="540.23" y="573.30" font-size="10.40" fill="#231f20" textLength="10.63" lengthAdjust="spacingAndGlyphs">−2</text>
<text x="597.75" y="573.30" font-size="10.40" fill="#231f20" textLength="6.26" lengthAdjust="spacingAndGlyphs">0</text>
<text x="653.43" y="573.30" font-size="10.40" fill="#231f20" textLength="6.36" lengthAdjust="spacingAndGlyphs">2</text>
<text x="577.44" y="592.50" font-size="12.00" font-style="italic" fill="#231f20" textLength="6.57" lengthAdjust="spacingAndGlyphs">μ</text>
<text x="584.72" y="596.80" font-size="9.20" fill="#231f20" textLength="5.21" lengthAdjust="spacingAndGlyphs">0</text>
<text x="592.97" y="592.00" font-size="11.50" font-style="italic" fill="#231f20" textLength="8.00" lengthAdjust="spacingAndGlyphs">H</text>
<path d="M604.90 590.00 V596.40 M602.00 596.40 H607.80" stroke="#231f20" stroke-width="0.80" fill="none"/>
<text x="610.44" y="592.00" font-size="11.50" fill="#231f20" textLength="14.15" lengthAdjust="spacingAndGlyphs">(T)</text>
<text transform="translate(483.60 391.60) rotate(-90)" font-size="12.0" text-anchor="middle" fill="#231f20"><tspan font-style="italic">δ</tspan>G (%)</text>
<text x="552.77" y="245.80" font-size="12.20" font-style="italic" fill="#231f20" textLength="7.99" lengthAdjust="spacingAndGlyphs">D</text>
<text x="561.20" y="246.70" font-size="12.81" fill="#231f20" textLength="4.27" lengthAdjust="spacingAndGlyphs">/</text>
<text x="566.40" y="245.80" font-size="13.42" fill="#231f20" textLength="6.40" lengthAdjust="spacingAndGlyphs">ε</text>
<text x="572.79" y="249.30" font-size="8.80" fill="#231f20" textLength="5.68" lengthAdjust="spacingAndGlyphs">0</text>
<text x="581.29" y="246.40" font-size="12.20" fill="#231f20" textLength="5.90" lengthAdjust="spacingAndGlyphs">=</text>
<text x="589.77" y="245.80" font-size="12.20" fill="#231f20" textLength="18.36" lengthAdjust="spacingAndGlyphs">0.3</text>
<text x="613.25" y="245.80" font-size="12.20" fill="#231f20" textLength="6.72" lengthAdjust="spacingAndGlyphs">V</text>
<text x="623.20" y="245.80" font-size="12.20" fill="#231f20" textLength="19.29" lengthAdjust="spacingAndGlyphs">nm</text>
<text x="642.28" y="239.90" font-size="8.60" fill="#231f20" textLength="7.20" lengthAdjust="spacingAndGlyphs">−1</text>
</svg>
</body></html>
